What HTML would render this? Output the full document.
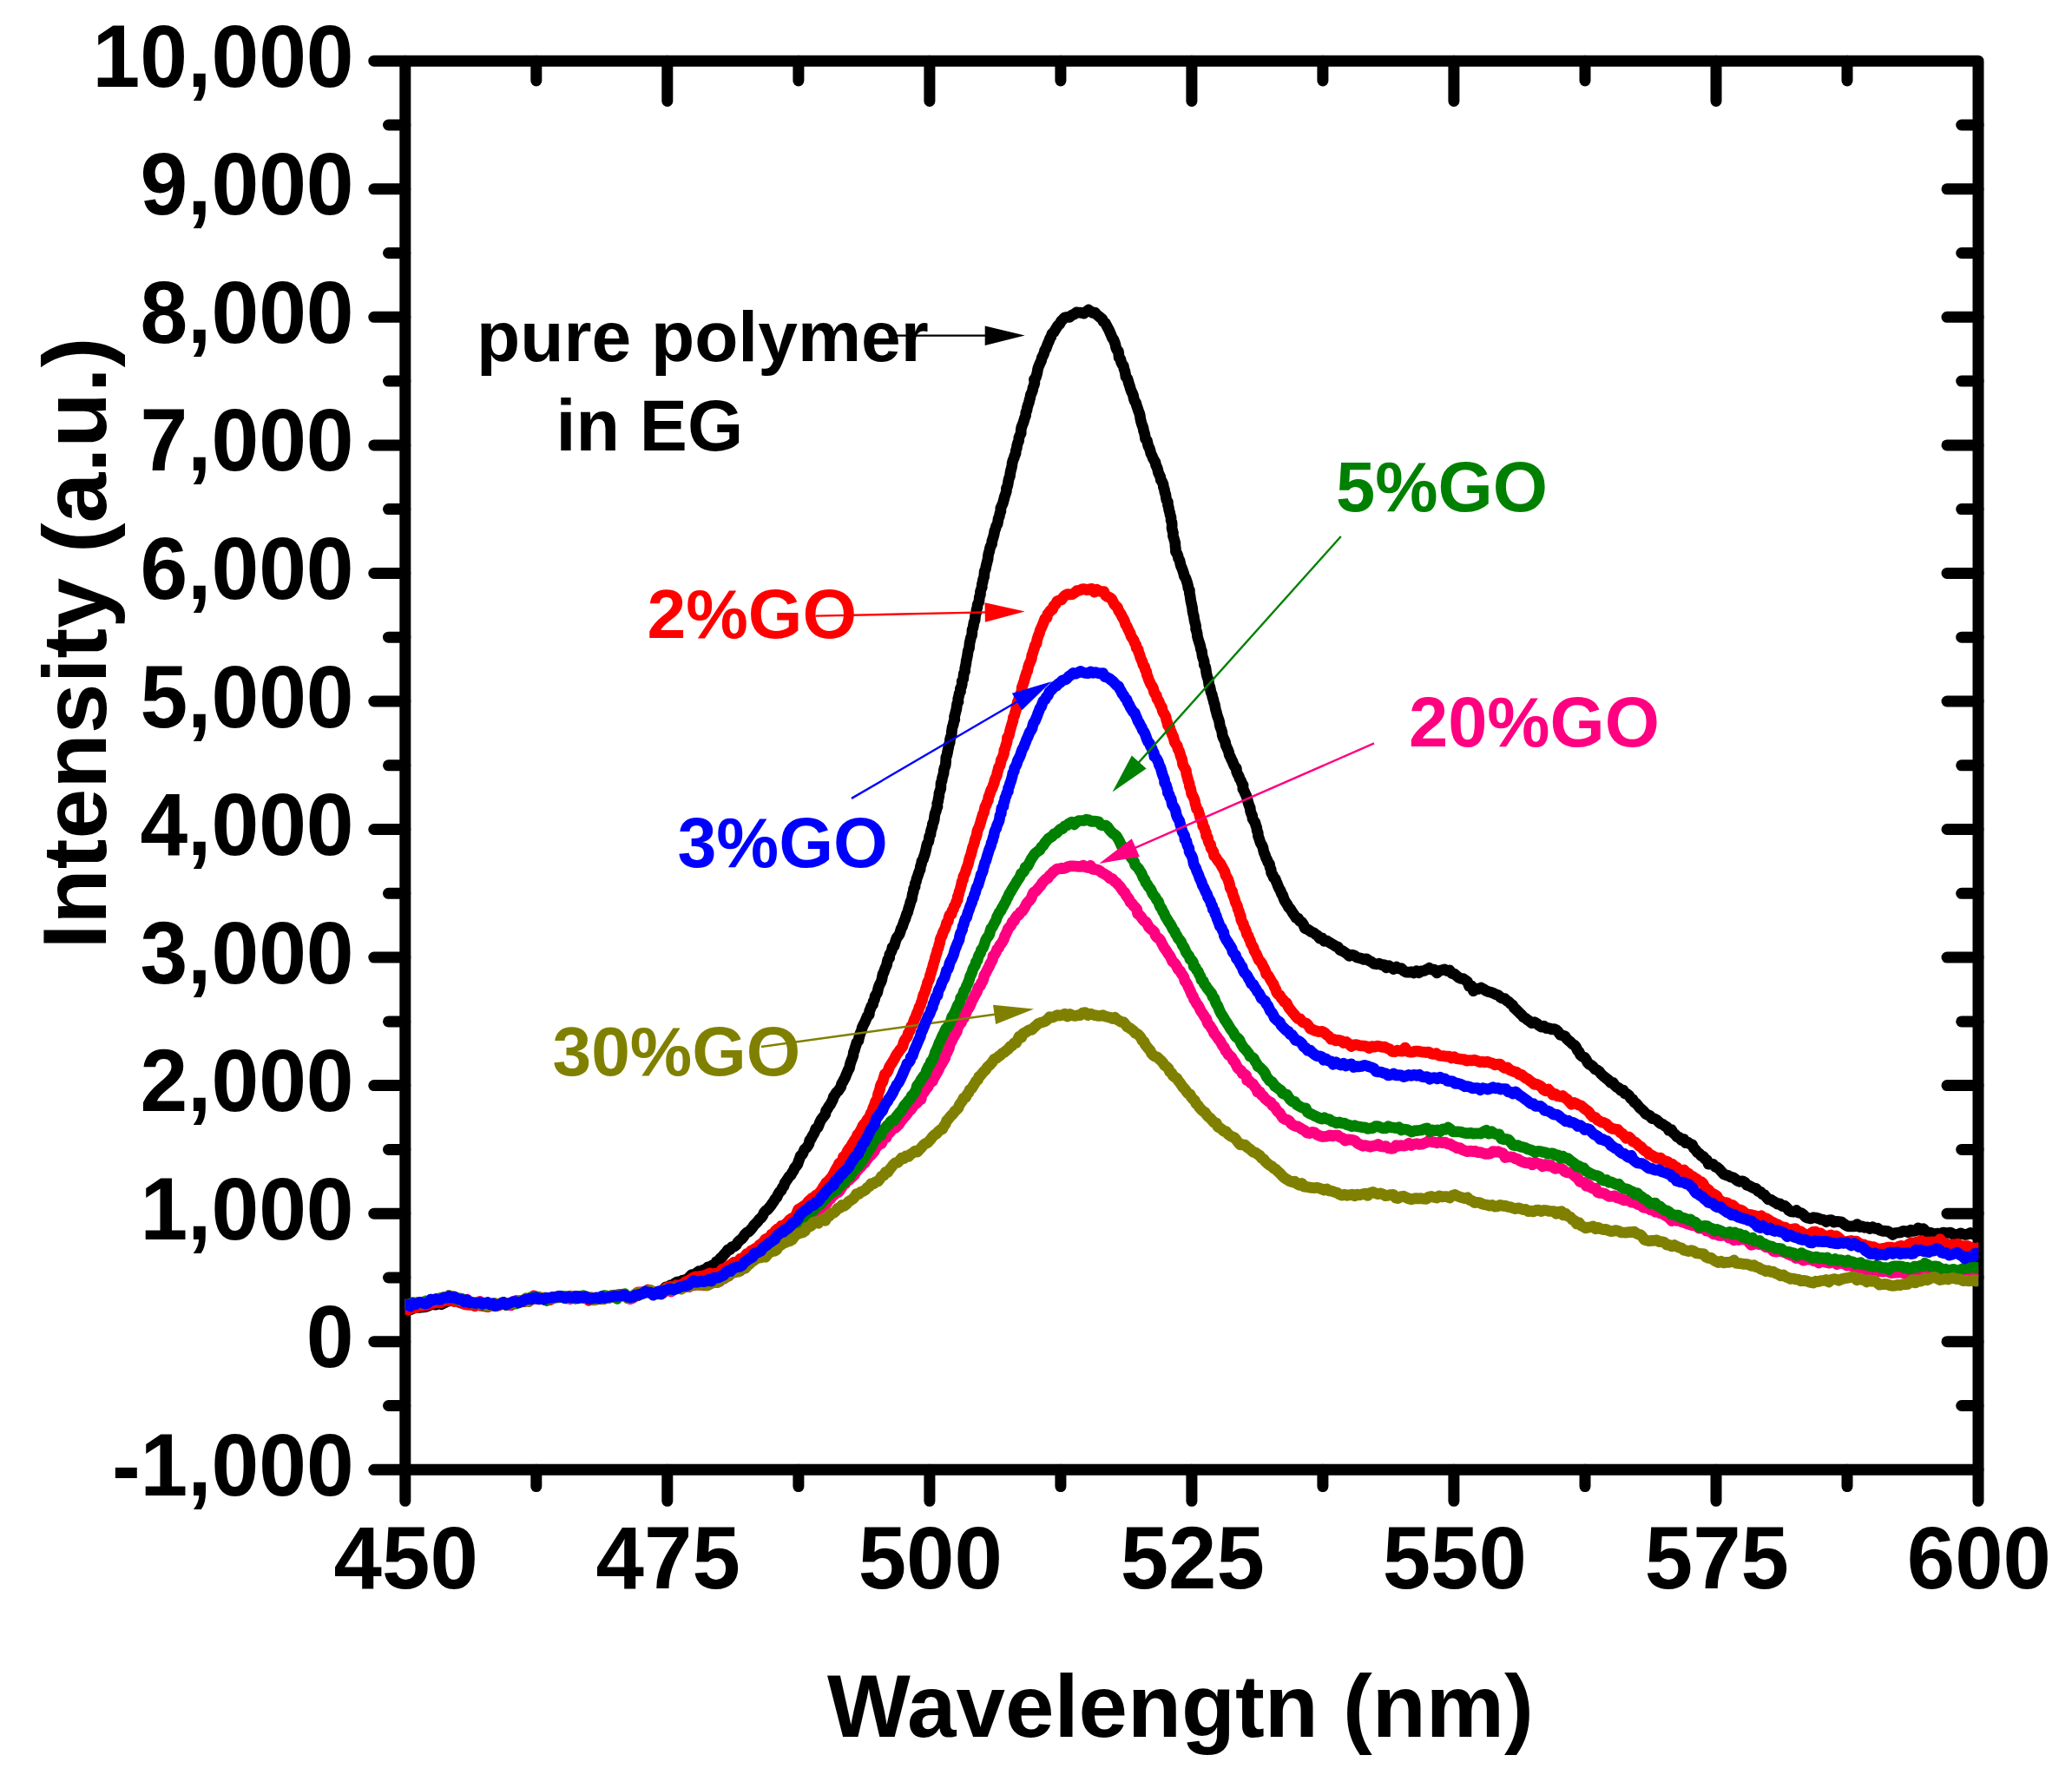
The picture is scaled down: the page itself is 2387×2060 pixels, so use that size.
<!DOCTYPE html>
<html lang="en"><head><meta charset="utf-8"><title>PL spectra</title>
<style>html,body{margin:0;padding:0;background:#fff}svg{display:block}</style>
</head><body>
<svg width="2387" height="2060" viewBox="0 0 2387 2060" font-family="'Liberation Sans', Arial, Helvetica, sans-serif" font-weight="bold">
<rect width="2387" height="2060" fill="#fff"/>
<defs><clipPath id="plotclip"><rect x="466.5" y="0" width="1812.8" height="2060"/></clipPath></defs>
<g stroke="#000" stroke-width="13.0" stroke-linecap="round" fill="none">
<path d="M466.8,70.2 L2279.0,70.2 L2279.0,1693.3 L466.8,1693.3 Z" stroke-linejoin="round"/>
<path d="M466.8,1693.3 v36.0"/>
<path d="M617.8,1693.3 v19.3"/>
<path d="M617.8,70.2 v22.8"/>
<path d="M768.8,1693.3 v36.0"/>
<path d="M768.8,70.2 v46.3"/>
<path d="M919.9,1693.3 v19.3"/>
<path d="M919.9,70.2 v22.8"/>
<path d="M1070.9,1693.3 v36.0"/>
<path d="M1070.9,70.2 v46.3"/>
<path d="M1221.9,1693.3 v19.3"/>
<path d="M1221.9,70.2 v22.8"/>
<path d="M1372.9,1693.3 v36.0"/>
<path d="M1372.9,70.2 v46.3"/>
<path d="M1523.9,1693.3 v19.3"/>
<path d="M1523.9,70.2 v22.8"/>
<path d="M1674.9,1693.3 v36.0"/>
<path d="M1674.9,70.2 v46.3"/>
<path d="M1826.0,1693.3 v19.3"/>
<path d="M1826.0,70.2 v22.8"/>
<path d="M1977.0,1693.3 v36.0"/>
<path d="M1977.0,70.2 v46.3"/>
<path d="M2128.0,1693.3 v19.3"/>
<path d="M2128.0,70.2 v22.8"/>
<path d="M2279.0,1693.3 v36.0"/>
<path d="M466.8,1693.3 h-36.0"/>
<path d="M466.8,1619.5 h-19.3"/>
<path d="M2279.0,1619.5 h-19.3"/>
<path d="M466.8,1545.7 h-36.0"/>
<path d="M2279.0,1545.7 h-36.0"/>
<path d="M466.8,1472.0 h-19.3"/>
<path d="M2279.0,1472.0 h-19.3"/>
<path d="M466.8,1398.2 h-36.0"/>
<path d="M2279.0,1398.2 h-36.0"/>
<path d="M466.8,1324.4 h-19.3"/>
<path d="M2279.0,1324.4 h-19.3"/>
<path d="M466.8,1250.6 h-36.0"/>
<path d="M2279.0,1250.6 h-36.0"/>
<path d="M466.8,1176.9 h-19.3"/>
<path d="M2279.0,1176.9 h-19.3"/>
<path d="M466.8,1103.1 h-36.0"/>
<path d="M2279.0,1103.1 h-36.0"/>
<path d="M466.8,1029.3 h-19.3"/>
<path d="M2279.0,1029.3 h-19.3"/>
<path d="M466.8,955.5 h-36.0"/>
<path d="M2279.0,955.5 h-36.0"/>
<path d="M466.8,881.8 h-19.3"/>
<path d="M2279.0,881.8 h-19.3"/>
<path d="M466.8,808.0 h-36.0"/>
<path d="M2279.0,808.0 h-36.0"/>
<path d="M466.8,734.2 h-19.3"/>
<path d="M2279.0,734.2 h-19.3"/>
<path d="M466.8,660.4 h-36.0"/>
<path d="M2279.0,660.4 h-36.0"/>
<path d="M466.8,586.6 h-19.3"/>
<path d="M2279.0,586.6 h-19.3"/>
<path d="M466.8,512.9 h-36.0"/>
<path d="M2279.0,512.9 h-36.0"/>
<path d="M466.8,439.1 h-19.3"/>
<path d="M2279.0,439.1 h-19.3"/>
<path d="M466.8,365.3 h-36.0"/>
<path d="M2279.0,365.3 h-36.0"/>
<path d="M466.8,291.5 h-19.3"/>
<path d="M2279.0,291.5 h-19.3"/>
<path d="M466.8,217.8 h-36.0"/>
<path d="M2279.0,217.8 h-36.0"/>
<path d="M466.8,144.0 h-19.3"/>
<path d="M2279.0,144.0 h-19.3"/>
<path d="M466.8,70.2 h-36.0"/>
</g>
<path d="M458.8,1508.8 L466.8,1508.8 L469.8,1508.4 L472.8,1508.8 L475.7,1507.6 L478.7,1506.6 L481.6,1506.3 L484.6,1506.3 L487.6,1505.9 L490.6,1505.6 L493.5,1504.6 L496.4,1501.9 L499.4,1503.0 L502.4,1503.1 L505.3,1500.2 L508.4,1502.7 L511.3,1501.3 L514.3,1499.9 L517.3,1498.8 L520.3,1498.6 L523.3,1498.1 L526.3,1498.8 L529.3,1500.1 L532.3,1501.4 L535.3,1499.5 L538.3,1500.7 L541.3,1500.8 L544.3,1501.8 L547.3,1501.3 L550.3,1501.4 L553.3,1501.8 L556.3,1501.4 L559.2,1503.6 L562.2,1503.7 L565.2,1502.9 L568.2,1504.2 L571.2,1502.9 L574.2,1503.3 L577.2,1501.5 L580.1,1500.4 L583.2,1503.7 L586.1,1502.3 L589.0,1501.0 L592.0,1500.8 L594.9,1500.4 L597.8,1498.8 L600.8,1499.0 L603.8,1499.6 L606.7,1498.1 L609.6,1496.4 L612.5,1494.4 L615.5,1496.3 L618.5,1496.0 L621.5,1495.1 L624.5,1496.2 L627.5,1497.6 L630.5,1497.8 L633.5,1497.3 L636.5,1495.8 L639.5,1494.4 L642.5,1494.0 L645.5,1493.6 L648.5,1494.7 L651.5,1495.9 L654.5,1494.2 L657.4,1493.8 L660.5,1494.6 L663.5,1495.5 L666.4,1493.6 L669.4,1494.4 L672.4,1494.1 L675.4,1494.4 L678.5,1497.0 L681.4,1496.0 L684.4,1495.5 L687.4,1496.1 L690.4,1495.5 L693.4,1495.4 L696.4,1495.8 L699.4,1493.8 L702.4,1494.4 L705.4,1492.6 L708.4,1493.2 L711.4,1492.0 L714.4,1491.4 L717.4,1492.3 L720.4,1493.0 L723.4,1494.2 L726.4,1495.4 L729.4,1493.2 L732.4,1493.1 L735.3,1492.5 L738.2,1490.2 L741.1,1489.7 L744.0,1487.9 L746.9,1488.3 L749.8,1487.8 L752.8,1488.1 L755.8,1489.0 L758.7,1488.2 L761.6,1487.4 L764.3,1485.9 L766.9,1482.8 L769.8,1482.6 L772.5,1480.7 L775.3,1480.4 L777.9,1478.2 L780.7,1476.8 L783.6,1477.0 L786.3,1475.2 L789.1,1474.6 L791.9,1473.7 L794.4,1471.1 L796.9,1468.6 L799.9,1469.5 L802.4,1466.6 L804.9,1464.7 L808.1,1466.9 L810.3,1463.1 L813.1,1462.6 L815.4,1459.9 L818.1,1459.6 L820.5,1457.8 L823.4,1457.9 L825.2,1453.6 L827.8,1452.6 L829.9,1449.6 L832.3,1447.8 L834.3,1445.1 L836.6,1442.9 L838.5,1439.9 L841.2,1439.6 L843.2,1436.6 L845.8,1436.2 L848.1,1434.5 L850.0,1431.2 L852.1,1429.2 L854.4,1427.5 L856.4,1425.0 L858.3,1422.0 L860.4,1420.0 L862.8,1418.9 L864.9,1416.7 L866.9,1414.3 L868.7,1411.6 L870.8,1409.5 L872.8,1407.4 L874.7,1404.8 L876.8,1403.2 L878.7,1400.7 L880.1,1397.3 L882.0,1395.0 L884.2,1393.7 L886.1,1391.4 L888.0,1389.2 L889.7,1386.5 L891.4,1384.2 L893.0,1381.3 L895.0,1379.4 L896.3,1376.2 L897.9,1373.5 L899.9,1371.7 L901.2,1368.6 L903.0,1366.5 L904.1,1363.0 L905.8,1360.6 L907.4,1358.2 L909.0,1355.7 L911.0,1354.0 L912.4,1351.3 L914.1,1348.9 L915.3,1345.7 L917.1,1343.7 L918.8,1341.6 L919.9,1338.1 L921.1,1335.0 L922.2,1331.6 L924.2,1330.0 L925.6,1327.3 L926.8,1324.2 L928.8,1322.6 L930.5,1320.4 L932.0,1317.8 L932.7,1313.9 L934.5,1311.8 L935.8,1309.0 L937.4,1306.6 L938.7,1303.8 L939.8,1300.4 L942.0,1299.3 L943.3,1296.3 L944.4,1293.1 L945.8,1290.4 L947.4,1288.1 L949.2,1286.1 L950.8,1283.7 L951.6,1279.7 L953.3,1277.5 L954.7,1274.8 L956.5,1272.7 L957.9,1269.8 L959.4,1267.2 L960.4,1263.5 L962.1,1261.2 L963.6,1258.5 L965.6,1257.0 L967.2,1254.6 L968.8,1252.2 L969.6,1248.6 L971.1,1246.3 L972.4,1243.7 L973.8,1241.3 L974.8,1238.3 L976.0,1235.7 L977.1,1232.9 L978.5,1230.6 L979.1,1227.3 L979.9,1224.2 L980.9,1221.5 L982.0,1218.8 L983.0,1215.9 L983.3,1212.5 L984.5,1209.8 L985.2,1206.8 L986.2,1204.0 L987.0,1201.0 L988.9,1199.2 L989.5,1195.9 L990.3,1192.8 L991.3,1189.9 L992.5,1187.3 L993.2,1184.0 L994.4,1181.4 L995.7,1178.9 L997.0,1176.2 L998.1,1173.4 L999.3,1170.6 L1001.3,1169.1 L1001.6,1165.1 L1002.8,1162.3 L1003.8,1159.4 L1005.6,1157.5 L1006.1,1153.9 L1007.5,1151.5 L1008.1,1147.9 L1009.5,1145.6 L1010.9,1143.2 L1011.5,1139.8 L1012.3,1136.8 L1013.4,1134.1 L1014.8,1131.7 L1015.8,1128.9 L1016.4,1125.7 L1017.0,1122.5 L1018.3,1120.0 L1019.2,1117.2 L1020.3,1114.5 L1021.5,1112.0 L1022.1,1108.7 L1022.8,1105.5 L1024.7,1103.7 L1024.8,1099.8 L1026.2,1097.5 L1027.4,1094.8 L1028.0,1091.4 L1030.1,1089.9 L1031.0,1086.8 L1031.9,1083.6 L1033.0,1080.7 L1034.6,1078.6 L1036.2,1076.3 L1037.2,1073.3 L1038.1,1070.0 L1039.5,1067.7 L1040.5,1064.6 L1041.5,1061.7 L1042.7,1059.1 L1043.6,1056.1 L1044.5,1053.2 L1045.8,1050.7 L1046.5,1047.5 L1047.4,1044.7 L1048.3,1041.8 L1049.0,1038.8 L1050.3,1036.4 L1050.8,1033.2 L1051.3,1030.0 L1052.3,1027.3 L1052.6,1023.9 L1054.1,1021.7 L1054.2,1018.1 L1055.5,1015.6 L1056.0,1012.5 L1057.1,1009.9 L1058.0,1007.0 L1058.9,1004.2 L1060.1,1001.7 L1060.4,998.2 L1061.5,995.6 L1061.9,992.3 L1063.5,990.1 L1064.3,987.2 L1065.3,984.5 L1066.1,981.5 L1066.8,978.5 L1067.4,975.3 L1068.1,972.4 L1069.6,970.1 L1070.3,967.0 L1070.6,963.7 L1072.0,961.4 L1072.3,958.1 L1073.1,955.2 L1074.1,952.4 L1074.4,949.2 L1075.6,946.7 L1076.3,943.8 L1076.6,940.6 L1077.1,937.5 L1078.2,934.9 L1078.9,932.0 L1080.0,929.4 L1079.7,925.9 L1080.7,923.3 L1081.1,920.2 L1081.8,917.3 L1081.9,914.1 L1082.8,911.3 L1083.8,908.6 L1083.9,905.4 L1084.0,902.1 L1085.1,899.5 L1085.5,896.4 L1086.3,893.7 L1087.1,890.8 L1087.3,887.6 L1088.0,884.8 L1089.1,882.2 L1089.5,879.1 L1089.7,875.9 L1089.8,872.7 L1090.9,870.1 L1091.5,867.1 L1092.0,864.1 L1092.7,861.2 L1093.1,858.2 L1094.2,855.6 L1094.4,852.4 L1095.1,849.5 L1096.2,846.9 L1096.3,843.6 L1096.7,840.5 L1097.2,837.5 L1098.2,834.9 L1098.7,831.9 L1099.8,829.2 L1099.5,825.7 L1100.3,822.9 L1101.0,820.0 L1101.8,817.2 L1102.2,814.1 L1102.6,811.0 L1104.0,808.6 L1103.7,805.1 L1104.6,802.3 L1105.0,799.2 L1106.5,796.9 L1106.3,793.4 L1107.6,791.0 L1108.3,788.1 L1108.2,784.6 L1109.7,782.3 L1110.0,779.2 L1110.3,776.0 L1111.6,773.6 L1111.7,770.3 L1112.3,767.4 L1112.9,764.4 L1113.2,761.3 L1113.9,758.4 L1114.5,755.5 L1114.9,752.4 L1115.4,749.4 L1116.5,746.8 L1116.8,743.7 L1117.1,740.6 L1117.8,737.7 L1118.4,734.7 L1119.5,732.2 L1119.9,729.1 L1120.0,725.8 L1121.0,723.1 L1121.5,720.1 L1122.0,717.2 L1123.1,714.5 L1123.4,711.4 L1123.7,708.3 L1124.7,705.6 L1125.0,702.4 L1125.9,699.7 L1126.2,696.5 L1127.5,694.1 L1128.1,691.2 L1128.3,687.9 L1129.4,685.3 L1129.4,682.0 L1130.2,679.1 L1131.3,676.5 L1131.3,673.2 L1132.2,670.4 L1132.6,667.4 L1133.7,664.7 L1133.9,661.5 L1134.2,658.3 L1135.4,655.8 L1135.9,652.8 L1136.6,649.8 L1137.3,647.0 L1138.1,644.1 L1138.3,640.9 L1138.9,637.8 L1139.8,635.0 L1140.3,632.0 L1141.2,629.2 L1142.6,626.9 L1142.8,623.5 L1143.7,620.7 L1144.6,617.9 L1145.3,614.9 L1145.8,611.7 L1146.9,609.1 L1147.6,606.1 L1149.1,603.8 L1149.7,600.8 L1150.1,597.5 L1151.3,594.9 L1151.8,591.7 L1152.9,589.1 L1152.8,585.4 L1154.0,582.8 L1155.2,580.3 L1156.0,577.4 L1156.8,574.5 L1157.5,571.6 L1158.5,568.9 L1159.4,566.1 L1159.4,562.7 L1160.7,560.1 L1161.3,557.1 L1161.7,554.0 L1162.4,551.1 L1163.5,548.5 L1163.8,545.2 L1164.4,542.2 L1165.2,539.4 L1165.8,536.4 L1166.2,533.2 L1167.0,530.3 L1168.1,527.8 L1168.9,524.9 L1170.1,522.4 L1170.3,519.1 L1171.3,516.4 L1171.7,513.2 L1172.5,510.4 L1173.7,507.8 L1173.8,504.4 L1174.9,501.7 L1176.2,499.3 L1176.2,495.7 L1176.7,492.5 L1177.7,489.9 L1178.8,487.3 L1179.7,484.4 L1180.5,481.5 L1181.6,478.9 L1181.8,475.5 L1182.9,472.9 L1183.4,469.7 L1184.2,466.9 L1185.3,464.2 L1185.9,461.2 L1186.8,458.3 L1187.3,455.1 L1188.5,452.6 L1189.5,449.9 L1190.0,446.7 L1191.1,444.1 L1191.9,441.2 L1191.4,437.1 L1193.2,435.2 L1194.1,432.4 L1194.9,429.5 L1195.4,426.3 L1196.1,423.3 L1197.2,420.6 L1198.4,417.9 L1199.6,415.4 L1200.3,412.2 L1201.7,409.7 L1202.8,407.0 L1203.6,403.8 L1205.1,401.5 L1206.1,398.7 L1207.2,395.8 L1208.5,393.1 L1209.5,390.0 L1211.0,387.8 L1212.0,384.4 L1214.0,382.8 L1215.5,380.3 L1217.1,377.7 L1218.8,375.0 L1220.8,373.2 L1222.5,370.0 L1224.6,367.9 L1226.9,365.7 L1229.6,365.4 L1232.3,365.3 L1234.8,363.1 L1237.5,362.0 L1240.2,359.8 L1243.1,360.2 L1245.9,360.4 L1248.7,361.2 L1251.3,359.0 L1254.0,357.0 L1256.4,358.8 L1258.8,360.3 L1261.3,360.0 L1263.4,362.4 L1265.5,364.1 L1267.6,365.9 L1269.7,367.5 L1271.2,370.7 L1273.3,372.2 L1274.8,375.1 L1276.3,377.8 L1277.7,380.5 L1278.9,383.4 L1280.1,386.1 L1281.2,389.1 L1282.8,391.2 L1283.9,393.9 L1284.9,396.8 L1285.5,400.2 L1286.6,402.9 L1288.4,404.7 L1288.8,408.3 L1289.1,411.9 L1290.9,413.8 L1291.5,417.0 L1292.7,419.6 L1294.3,421.7 L1294.9,424.9 L1295.9,427.6 L1296.5,430.9 L1297.0,434.2 L1298.8,436.1 L1299.7,439.0 L1300.5,442.0 L1301.5,444.8 L1302.3,447.9 L1303.3,450.7 L1304.6,453.2 L1305.6,456.0 L1306.2,459.3 L1307.2,462.1 L1308.7,464.3 L1309.5,467.5 L1310.5,470.2 L1311.4,473.1 L1312.5,475.8 L1313.3,478.7 L1313.7,482.0 L1314.3,485.0 L1315.1,487.8 L1316.1,490.6 L1317.1,493.2 L1317.5,496.4 L1318.5,499.1 L1319.1,502.2 L1319.5,505.6 L1321.3,507.4 L1322.1,510.5 L1322.7,513.7 L1324.1,516.1 L1325.1,519.2 L1325.8,522.5 L1327.2,525.0 L1328.3,527.9 L1329.6,530.3 L1331.0,532.6 L1331.6,536.0 L1332.9,538.4 L1333.8,541.3 L1334.4,544.6 L1335.6,547.1 L1336.8,549.6 L1337.3,553.0 L1338.8,555.2 L1340.0,557.8 L1340.4,561.2 L1341.4,564.0 L1341.9,567.2 L1342.9,570.0 L1343.3,573.2 L1343.9,576.2 L1345.4,578.4 L1345.4,581.8 L1346.3,584.5 L1346.7,587.6 L1347.6,590.4 L1348.1,593.3 L1349.0,596.0 L1349.0,599.3 L1350.0,602.0 L1350.2,605.1 L1350.0,608.4 L1350.7,611.3 L1351.5,614.1 L1351.4,617.4 L1352.3,620.1 L1353.1,622.9 L1353.9,625.7 L1353.9,629.1 L1354.4,632.1 L1354.4,635.5 L1355.9,637.8 L1357.0,640.4 L1357.6,643.5 L1359.0,645.8 L1359.6,648.9 L1360.4,652.0 L1361.6,654.6 L1362.6,657.4 L1363.6,660.4 L1364.3,663.6 L1365.8,665.8 L1366.8,668.6 L1367.7,671.5 L1368.5,674.4 L1368.9,677.6 L1370.4,679.9 L1370.3,683.3 L1371.0,686.2 L1371.4,689.2 L1371.8,692.3 L1372.5,695.1 L1373.1,698.0 L1373.7,700.9 L1373.9,704.0 L1374.5,706.9 L1375.3,709.8 L1375.7,712.7 L1376.2,715.7 L1377.0,718.5 L1377.7,721.4 L1377.6,724.8 L1378.6,727.5 L1379.2,730.4 L1379.5,733.6 L1380.3,736.4 L1381.2,739.2 L1382.1,741.9 L1382.9,744.8 L1383.4,747.9 L1384.5,750.4 L1384.8,753.7 L1385.3,756.7 L1386.3,759.5 L1387.2,762.2 L1387.2,765.7 L1388.6,768.1 L1389.2,771.1 L1389.6,774.3 L1390.1,777.3 L1390.9,780.1 L1391.9,782.8 L1392.4,785.9 L1392.8,789.1 L1393.9,791.7 L1394.5,794.7 L1395.1,797.7 L1396.3,800.3 L1396.8,803.3 L1397.8,806.0 L1398.4,809.1 L1399.4,811.8 L1399.9,814.8 L1400.5,817.9 L1401.4,820.7 L1402.1,823.7 L1403.0,826.4 L1404.0,829.1 L1404.8,832.0 L1405.2,835.4 L1406.0,838.2 L1407.1,840.9 L1407.9,843.8 L1408.2,847.2 L1409.2,850.0 L1410.5,852.5 L1411.6,855.1 L1412.1,858.5 L1413.3,861.1 L1414.5,863.7 L1415.6,866.5 L1416.2,869.9 L1417.6,872.4 L1418.7,875.2 L1420.1,877.7 L1421.1,880.6 L1422.4,883.3 L1424.3,885.0 L1424.6,889.0 L1425.7,891.8 L1427.2,894.1 L1428.1,897.1 L1429.6,899.5 L1430.6,902.4 L1432.1,904.6 L1431.8,909.0 L1433.3,911.3 L1434.4,914.0 L1435.6,916.5 L1436.6,919.3 L1437.3,922.4 L1438.1,925.4 L1439.1,928.2 L1440.2,930.8 L1440.5,934.3 L1441.4,937.2 L1442.7,939.7 L1443.0,943.2 L1444.4,945.5 L1445.9,947.8 L1446.7,950.7 L1447.7,953.4 L1448.1,956.8 L1449.2,959.4 L1449.4,963.0 L1450.4,965.7 L1451.3,968.6 L1452.2,971.4 L1453.7,973.7 L1454.9,976.3 L1455.5,979.5 L1456.3,982.6 L1457.5,985.2 L1458.4,988.3 L1459.8,990.7 L1460.8,993.5 L1462.5,995.6 L1463.0,999.2 L1464.2,1001.9 L1464.6,1005.7 L1466.2,1007.9 L1467.2,1010.9 L1469.1,1012.6 L1470.2,1015.5 L1471.4,1018.2 L1472.5,1021.2 L1473.7,1023.8 L1475.2,1026.2 L1476.2,1029.4 L1477.8,1031.6 L1478.8,1034.9 L1480.0,1037.8 L1481.6,1040.2 L1483.2,1042.4 L1484.5,1045.4 L1486.4,1047.2 L1488.0,1049.7 L1489.6,1052.3 L1491.4,1054.8 L1493.1,1057.4 L1495.6,1058.1 L1497.3,1061.1 L1499.7,1062.4 L1501.6,1065.3 L1503.2,1069.5 L1505.8,1070.4 L1508.2,1071.9 L1510.6,1073.7 L1513.2,1074.5 L1515.6,1076.4 L1518.1,1078.1 L1520.4,1081.2 L1523.3,1080.9 L1525.5,1084.3 L1528.4,1083.8 L1531.0,1085.6 L1533.6,1087.1 L1536.2,1088.5 L1538.7,1090.2 L1541.4,1091.1 L1543.7,1094.5 L1546.5,1095.5 L1549.1,1097.1 L1551.7,1098.9 L1554.3,1101.3 L1557.4,1100.0 L1560.2,1100.8 L1562.8,1102.8 L1565.7,1103.6 L1568.6,1104.4 L1571.4,1105.5 L1574.4,1104.8 L1577.2,1106.9 L1580.1,1108.3 L1582.9,1110.3 L1585.7,1110.9 L1588.7,1110.2 L1591.5,1111.7 L1594.4,1111.7 L1596.9,1114.9 L1600.1,1112.7 L1602.8,1114.6 L1605.5,1116.5 L1608.7,1114.0 L1611.4,1116.0 L1614.4,1115.7 L1617.1,1118.5 L1620.0,1120.1 L1622.9,1120.1 L1625.9,1119.7 L1628.8,1121.0 L1631.8,1118.7 L1634.8,1120.8 L1637.7,1118.9 L1640.6,1118.5 L1643.6,1117.1 L1646.5,1115.3 L1649.5,1117.2 L1652.5,1117.1 L1655.4,1120.9 L1658.4,1118.4 L1661.3,1117.7 L1664.3,1116.9 L1667.1,1118.5 L1670.1,1117.9 L1672.5,1121.5 L1675.3,1122.0 L1677.9,1124.1 L1680.3,1126.1 L1682.9,1127.5 L1685.7,1127.6 L1688.2,1129.4 L1690.6,1131.2 L1692.5,1136.1 L1695.3,1136.2 L1697.3,1141.7 L1700.5,1139.1 L1703.3,1139.3 L1706.3,1138.0 L1709.1,1139.5 L1711.9,1141.4 L1714.7,1142.6 L1717.6,1143.2 L1720.4,1144.2 L1723.1,1145.7 L1725.9,1146.5 L1728.3,1148.8 L1730.8,1150.3 L1733.6,1150.6 L1735.8,1152.9 L1738.2,1154.3 L1740.3,1156.5 L1742.6,1158.0 L1744.3,1161.2 L1746.5,1163.0 L1748.6,1165.2 L1750.7,1167.2 L1752.9,1169.2 L1755.0,1171.9 L1757.4,1173.1 L1759.8,1175.1 L1762.3,1176.8 L1764.7,1178.7 L1767.7,1177.7 L1770.4,1179.1 L1773.0,1181.4 L1775.7,1183.1 L1778.7,1182.2 L1781.4,1184.7 L1784.3,1184.5 L1787.1,1185.9 L1790.1,1185.5 L1792.8,1186.6 L1795.3,1189.1 L1797.6,1192.4 L1800.3,1193.0 L1802.9,1193.8 L1804.9,1196.9 L1807.1,1198.9 L1809.4,1200.6 L1811.4,1202.9 L1813.8,1204.1 L1815.7,1206.5 L1817.2,1209.9 L1819.2,1212.1 L1820.7,1215.5 L1822.8,1217.3 L1825.3,1218.2 L1827.2,1220.7 L1828.9,1224.0 L1830.9,1226.3 L1833.4,1227.3 L1835.6,1229.4 L1837.6,1231.9 L1840.1,1232.9 L1842.4,1234.5 L1844.5,1237.4 L1846.7,1239.4 L1849.0,1241.2 L1851.2,1243.0 L1853.5,1244.8 L1855.6,1247.3 L1858.3,1247.3 L1860.2,1250.4 L1862.5,1252.5 L1865.0,1253.4 L1867.1,1256.3 L1870.0,1256.0 L1871.8,1260.0 L1874.5,1260.4 L1876.8,1262.2 L1878.6,1265.6 L1881.0,1266.8 L1882.7,1269.9 L1885.0,1271.4 L1887.0,1273.8 L1889.0,1276.3 L1891.3,1278.2 L1893.6,1280.2 L1895.7,1283.1 L1898.2,1284.5 L1900.8,1285.5 L1903.0,1288.6 L1905.8,1288.9 L1908.3,1290.1 L1910.7,1292.5 L1913.1,1294.5 L1915.7,1295.5 L1918.1,1297.3 L1920.6,1298.8 L1922.6,1302.2 L1925.5,1301.6 L1927.5,1305.2 L1929.9,1307.2 L1932.1,1309.8 L1934.7,1310.5 L1936.9,1313.5 L1939.9,1312.6 L1941.8,1316.6 L1944.7,1316.1 L1946.9,1318.1 L1949.5,1318.9 L1951.2,1322.8 L1953.4,1324.7 L1955.3,1327.7 L1957.7,1329.0 L1959.7,1331.6 L1962.2,1332.4 L1964.2,1335.1 L1966.6,1336.6 L1968.2,1341.1 L1970.9,1341.1 L1973.6,1341.4 L1975.8,1344.2 L1978.4,1345.1 L1980.8,1347.1 L1983.2,1349.9 L1985.6,1352.6 L1988.3,1353.8 L1991.0,1354.5 L1993.7,1356.0 L1996.5,1356.6 L1999.1,1358.3 L2001.7,1360.5 L2004.5,1361.4 L2007.4,1360.8 L2010.1,1362.1 L2012.5,1365.4 L2015.2,1366.1 L2017.8,1367.7 L2020.5,1368.8 L2023.2,1369.5 L2025.4,1372.5 L2028.1,1373.1 L2030.3,1375.8 L2032.9,1376.8 L2035.1,1379.6 L2037.4,1382.0 L2040.2,1382.3 L2042.7,1384.0 L2045.2,1385.3 L2047.7,1387.2 L2050.6,1386.9 L2053.0,1389.6 L2055.9,1389.1 L2058.4,1391.4 L2060.8,1394.5 L2063.5,1396.0 L2066.4,1396.3 L2069.5,1394.6 L2072.1,1397.2 L2075.0,1397.5 L2077.7,1399.6 L2080.4,1402.5 L2083.3,1403.4 L2086.2,1404.0 L2089.3,1402.7 L2092.2,1403.0 L2095.1,1403.9 L2098.0,1405.0 L2101.0,1405.6 L2103.9,1407.7 L2106.9,1405.8 L2109.9,1405.6 L2112.8,1408.1 L2115.8,1407.3 L2118.8,1407.6 L2121.8,1408.1 L2124.6,1410.4 L2127.5,1412.3 L2130.4,1413.0 L2133.4,1412.8 L2136.4,1412.8 L2139.5,1410.5 L2142.3,1413.5 L2145.3,1412.8 L2148.2,1414.3 L2151.2,1413.8 L2154.1,1415.5 L2157.2,1413.7 L2160.0,1415.5 L2163.0,1415.2 L2165.8,1417.3 L2168.8,1418.4 L2171.7,1418.2 L2174.7,1418.6 L2177.6,1420.3 L2180.5,1422.5 L2183.6,1420.5 L2186.6,1420.2 L2189.5,1420.0 L2192.5,1418.3 L2195.4,1418.6 L2198.4,1419.7 L2201.2,1417.1 L2204.2,1418.5 L2207.1,1417.9 L2209.9,1414.8 L2212.8,1417.4 L2215.7,1415.7 L2218.4,1418.6 L2221.1,1419.9 L2224.0,1420.3 L2226.8,1421.3 L2229.6,1421.5 L2232.5,1421.1 L2235.4,1422.0 L2238.3,1420.1 L2241.2,1420.4 L2244.1,1420.5 L2247.0,1420.1 L2249.8,1421.6 L2252.6,1424.5 L2255.6,1422.3 L2258.5,1420.9 L2261.4,1421.8 L2264.3,1422.5 L2267.2,1421.8 L2270.0,1420.5 L2273.0,1421.9 L2276.1,1422.8 L2278.9,1421.0 L2279.0,1420.8 L2287.0,1420.8" fill="none" stroke="#000000" stroke-width="12.7" stroke-linejoin="round" stroke-linecap="butt" clip-path="url(#plotclip)"/>
<path d="M458.8,1507.3 L466.8,1507.3 L469.9,1509.2 L472.8,1507.8 L475.7,1506.6 L478.7,1506.9 L481.6,1504.8 L484.6,1505.1 L487.5,1503.5 L490.5,1504.2 L493.5,1503.4 L496.4,1502.3 L499.4,1501.6 L502.3,1500.2 L505.4,1500.9 L508.3,1500.8 L511.3,1498.8 L514.3,1498.7 L517.3,1498.4 L520.3,1496.7 L523.3,1499.6 L526.3,1498.9 L529.2,1500.8 L532.2,1500.2 L535.1,1502.7 L538.0,1503.1 L541.0,1503.3 L544.0,1503.4 L546.9,1504.8 L550.0,1502.5 L552.9,1504.3 L555.9,1504.6 L558.9,1505.0 L561.9,1505.7 L564.9,1503.9 L567.9,1504.1 L570.9,1504.8 L573.9,1504.3 L576.8,1501.9 L579.8,1501.8 L582.8,1501.6 L585.8,1502.8 L588.8,1502.0 L591.7,1501.5 L594.6,1500.7 L597.6,1500.7 L600.5,1498.8 L603.5,1499.5 L606.4,1498.1 L609.4,1499.5 L612.2,1496.2 L615.1,1492.9 L618.2,1496.4 L621.2,1494.4 L624.2,1496.4 L627.2,1496.7 L630.2,1496.6 L633.2,1497.7 L636.2,1496.2 L639.2,1495.1 L642.2,1493.6 L645.2,1493.7 L648.2,1494.6 L651.2,1495.0 L654.2,1494.6 L657.1,1493.1 L660.2,1495.1 L663.2,1494.9 L666.2,1493.9 L669.2,1495.0 L672.2,1495.6 L675.2,1495.3 L678.2,1498.3 L681.2,1495.0 L684.2,1496.0 L687.2,1496.3 L690.2,1495.8 L693.1,1496.3 L696.1,1494.3 L699.1,1493.5 L702.1,1495.2 L705.1,1492.9 L708.1,1493.5 L711.1,1493.7 L714.1,1493.4 L717.1,1492.6 L720.1,1492.0 L723.1,1494.3 L726.2,1495.3 L729.1,1494.7 L732.1,1493.6 L734.9,1490.1 L737.9,1490.6 L740.8,1489.5 L743.7,1488.5 L746.5,1485.9 L749.6,1487.0 L752.7,1488.6 L755.6,1488.8 L758.6,1489.2 L761.5,1488.4 L764.4,1487.4 L767.1,1483.8 L769.9,1482.7 L772.8,1482.2 L775.9,1483.1 L778.6,1480.7 L781.6,1481.6 L784.4,1480.2 L787.2,1478.9 L789.8,1476.6 L792.7,1475.8 L795.4,1473.9 L798.1,1472.3 L800.9,1470.9 L803.8,1471.1 L806.7,1470.4 L809.6,1469.9 L812.5,1469.7 L815.2,1468.0 L818.1,1466.9 L821.2,1468.7 L824.0,1467.2 L826.9,1467.7 L829.6,1465.3 L832.2,1462.2 L835.0,1461.4 L837.6,1459.6 L840.2,1457.9 L842.8,1456.4 L845.3,1454.4 L848.1,1454.1 L850.8,1453.3 L852.9,1450.0 L855.8,1449.9 L858.0,1447.4 L860.2,1444.5 L863.0,1444.1 L865.1,1441.2 L867.7,1439.9 L870.1,1438.4 L872.6,1437.1 L874.8,1434.5 L877.3,1433.0 L879.5,1430.8 L881.6,1427.9 L884.1,1426.7 L886.7,1425.7 L888.6,1422.2 L891.2,1421.6 L893.1,1418.2 L895.4,1416.1 L897.9,1415.3 L900.0,1412.4 L902.6,1412.0 L904.9,1410.2 L907.2,1408.3 L909.3,1405.7 L911.6,1404.0 L914.1,1403.0 L916.4,1401.4 L918.0,1397.3 L919.7,1393.4 L922.1,1392.1 L924.4,1390.5 L926.7,1388.8 L929.1,1387.3 L931.0,1384.4 L933.3,1382.5 L935.4,1380.4 L937.9,1379.4 L939.9,1377.0 L942.4,1375.9 L944.4,1373.7 L946.4,1371.3 L948.1,1368.2 L950.0,1365.7 L951.7,1362.8 L953.8,1361.1 L955.7,1359.0 L957.6,1356.8 L959.3,1354.3 L960.8,1351.5 L962.3,1348.5 L963.8,1345.9 L965.4,1343.3 L966.7,1340.2 L968.8,1338.8 L970.6,1336.7 L971.5,1332.8 L973.9,1331.9 L975.2,1328.8 L976.5,1325.8 L978.1,1323.3 L980.0,1321.3 L981.5,1318.6 L983.1,1315.9 L984.7,1313.3 L986.5,1311.0 L987.7,1307.5 L989.7,1305.7 L991.2,1302.8 L992.7,1300.1 L994.0,1296.9 L995.8,1294.7 L997.6,1292.8 L999.0,1290.0 L1000.9,1288.2 L1002.2,1285.4 L1003.3,1282.4 L1005.0,1280.3 L1005.7,1276.8 L1007.0,1274.2 L1007.9,1271.3 L1008.9,1268.5 L1010.8,1266.7 L1011.1,1263.2 L1011.7,1260.1 L1012.8,1257.4 L1013.7,1254.6 L1014.2,1251.4 L1015.3,1248.8 L1016.8,1246.5 L1017.6,1243.5 L1018.5,1240.4 L1019.5,1237.2 L1021.7,1236.0 L1023.1,1233.5 L1024.2,1230.2 L1025.6,1227.4 L1027.3,1225.1 L1028.8,1222.5 L1030.4,1219.9 L1031.8,1217.0 L1033.4,1214.3 L1035.1,1212.2 L1036.7,1209.7 L1038.5,1207.6 L1040.1,1205.2 L1040.9,1201.5 L1042.1,1198.6 L1043.7,1196.3 L1045.4,1194.2 L1046.2,1190.7 L1047.8,1188.4 L1048.8,1185.3 L1049.8,1182.3 L1051.6,1180.4 L1052.5,1177.2 L1053.6,1174.2 L1054.9,1171.7 L1055.9,1168.7 L1057.0,1166.0 L1058.3,1163.4 L1059.0,1160.2 L1060.6,1158.0 L1061.3,1154.8 L1062.5,1152.2 L1063.1,1148.9 L1064.0,1146.0 L1065.3,1143.6 L1066.2,1140.7 L1067.0,1137.8 L1068.0,1135.1 L1068.6,1131.8 L1070.0,1129.5 L1071.0,1126.8 L1071.5,1123.6 L1072.6,1120.9 L1073.2,1117.8 L1074.3,1115.1 L1075.0,1112.0 L1075.8,1109.1 L1076.8,1106.4 L1077.4,1103.3 L1078.3,1100.5 L1079.3,1097.8 L1079.8,1094.6 L1081.1,1092.1 L1081.7,1089.0 L1082.7,1086.3 L1083.1,1083.0 L1084.0,1080.1 L1085.4,1077.7 L1086.2,1074.7 L1087.4,1072.2 L1088.8,1069.8 L1089.7,1066.7 L1090.5,1063.4 L1092.3,1061.5 L1092.9,1057.7 L1093.9,1054.4 L1096.2,1053.4 L1096.8,1049.5 L1098.4,1047.4 L1099.2,1044.3 L1100.8,1042.1 L1101.6,1039.1 L1103.2,1036.9 L1103.2,1033.2 L1104.5,1030.7 L1105.0,1027.6 L1106.1,1024.9 L1106.8,1021.9 L1107.6,1019.0 L1108.1,1015.7 L1109.5,1013.4 L1109.8,1009.9 L1111.2,1007.5 L1112.3,1004.9 L1113.0,1001.8 L1114.1,999.1 L1115.1,996.4 L1115.9,993.4 L1116.5,990.3 L1117.4,987.4 L1118.5,984.8 L1119.2,981.7 L1120.0,978.8 L1120.7,975.8 L1121.8,973.1 L1122.6,970.2 L1123.2,967.1 L1124.4,964.5 L1125.3,961.7 L1125.7,958.3 L1126.6,955.5 L1127.9,953.1 L1128.8,950.2 L1129.7,947.4 L1130.4,944.3 L1131.4,941.5 L1132.2,938.5 L1133.5,936.1 L1134.1,932.8 L1134.8,929.7 L1136.2,927.3 L1137.1,924.4 L1138.4,922.0 L1138.8,918.5 L1139.9,915.8 L1140.9,912.9 L1141.8,910.0 L1143.3,907.7 L1144.2,904.7 L1145.3,902.1 L1145.9,898.8 L1147.1,896.2 L1148.3,893.6 L1148.9,890.3 L1149.8,887.4 L1150.5,884.2 L1152.0,882.1 L1152.8,879.0 L1153.2,875.7 L1154.6,873.4 L1155.7,870.7 L1156.6,868.0 L1156.8,864.4 L1158.0,861.9 L1158.7,858.9 L1159.7,856.2 L1160.3,853.1 L1160.5,849.7 L1162.3,847.7 L1162.9,844.7 L1163.6,841.6 L1164.4,838.8 L1165.2,835.9 L1166.1,833.1 L1167.0,830.2 L1167.3,826.8 L1168.6,824.4 L1169.3,821.5 L1170.3,818.7 L1170.8,815.5 L1171.7,812.7 L1172.1,809.3 L1173.2,806.8 L1174.0,803.8 L1175.3,801.4 L1176.1,798.5 L1177.1,795.8 L1177.2,792.3 L1178.2,789.6 L1179.1,786.8 L1180.1,784.1 L1180.7,781.0 L1181.7,778.3 L1182.5,775.3 L1183.8,772.9 L1184.3,769.6 L1185.1,766.7 L1186.2,764.0 L1187.4,761.4 L1188.4,758.6 L1188.7,755.1 L1189.8,752.5 L1190.6,749.4 L1191.6,746.7 L1192.3,743.5 L1194.1,741.6 L1194.5,738.2 L1195.3,735.2 L1196.2,732.4 L1197.4,729.8 L1198.1,726.6 L1199.3,724.0 L1200.5,721.4 L1201.6,718.7 L1202.7,715.7 L1203.8,712.9 L1206.0,711.7 L1206.8,707.7 L1208.6,705.6 L1210.3,703.1 L1212.6,702.1 L1213.9,698.0 L1216.1,696.3 L1217.8,692.7 L1220.3,691.8 L1222.8,691.0 L1224.9,688.1 L1227.2,685.9 L1229.7,684.6 L1232.6,684.9 L1235.3,684.7 L1238.0,683.0 L1240.6,680.6 L1243.5,680.2 L1246.3,678.9 L1249.2,678.6 L1252.2,679.7 L1255.1,678.7 L1258.0,678.3 L1260.7,682.2 L1263.7,679.3 L1266.3,680.9 L1269.0,681.7 L1271.8,681.6 L1273.7,686.1 L1276.0,687.5 L1278.5,688.4 L1280.7,690.2 L1282.3,693.3 L1283.8,696.3 L1285.7,698.3 L1287.5,700.1 L1288.6,703.4 L1290.2,705.8 L1291.7,708.2 L1292.9,710.9 L1294.5,713.3 L1295.7,716.0 L1296.6,719.3 L1298.2,721.6 L1299.4,724.4 L1300.7,727.1 L1302.1,729.6 L1303.0,733.0 L1304.5,735.3 L1306.1,737.5 L1307.1,740.7 L1308.7,742.8 L1309.2,746.6 L1311.1,748.3 L1311.8,751.8 L1313.0,754.4 L1313.8,757.7 L1315.0,760.3 L1316.2,762.9 L1316.9,766.0 L1318.6,768.1 L1319.3,771.4 L1320.7,773.7 L1321.2,777.3 L1322.4,779.9 L1323.3,783.0 L1324.5,785.7 L1325.7,788.4 L1327.3,790.7 L1328.6,793.2 L1329.3,796.8 L1330.7,799.3 L1332.3,801.4 L1332.9,805.0 L1334.6,807.2 L1335.8,809.9 L1336.9,812.8 L1338.5,814.9 L1339.1,818.5 L1340.3,821.2 L1341.8,823.4 L1343.1,826.1 L1343.7,829.5 L1344.7,832.4 L1345.4,835.7 L1347.4,837.3 L1348.0,840.8 L1349.3,843.3 L1350.3,846.3 L1351.7,848.7 L1352.5,851.9 L1353.3,855.2 L1354.8,857.4 L1356.4,859.6 L1357.0,862.9 L1358.5,865.3 L1359.4,868.3 L1360.2,871.4 L1361.4,873.9 L1362.1,877.0 L1362.5,880.4 L1363.7,883.0 L1365.1,885.3 L1366.4,887.8 L1366.7,891.2 L1367.5,894.1 L1368.3,897.0 L1369.0,899.9 L1370.1,902.6 L1370.4,906.0 L1371.6,908.5 L1372.2,911.6 L1372.7,914.9 L1374.2,917.1 L1375.4,919.7 L1376.4,922.4 L1376.9,925.9 L1377.9,928.6 L1378.5,931.9 L1380.4,933.8 L1381.2,936.8 L1382.1,939.8 L1382.9,942.8 L1384.3,945.2 L1385.5,947.8 L1385.7,951.6 L1387.5,953.5 L1388.1,956.7 L1389.4,959.2 L1389.5,963.1 L1391.4,964.9 L1391.8,968.4 L1392.8,971.3 L1394.6,973.1 L1395.0,977.0 L1396.5,979.3 L1398.0,981.7 L1398.5,985.8 L1400.5,987.5 L1402.1,990.1 L1403.7,992.4 L1405.5,994.4 L1407.0,997.1 L1408.4,999.7 L1409.9,1002.3 L1411.2,1004.9 L1411.9,1008.4 L1413.4,1010.7 L1414.7,1013.1 L1415.6,1016.2 L1416.6,1019.0 L1417.0,1022.5 L1418.2,1025.0 L1419.7,1027.2 L1420.2,1030.5 L1421.3,1033.2 L1422.4,1035.9 L1423.1,1039.0 L1424.3,1041.6 L1425.5,1044.1 L1426.1,1047.4 L1427.4,1049.9 L1428.1,1053.1 L1429.4,1055.7 L1429.7,1059.5 L1430.9,1062.2 L1432.4,1064.4 L1433.0,1067.9 L1434.6,1070.0 L1435.6,1073.0 L1436.4,1076.3 L1438.1,1078.3 L1439.0,1081.4 L1440.4,1083.9 L1441.2,1087.3 L1442.7,1089.6 L1444.1,1091.9 L1444.9,1095.3 L1446.5,1097.7 L1447.8,1100.3 L1449.0,1103.2 L1450.2,1106.1 L1452.1,1107.9 L1453.7,1110.2 L1454.9,1113.1 L1456.4,1115.6 L1457.8,1118.5 L1458.6,1122.3 L1460.7,1123.7 L1462.3,1126.2 L1463.7,1128.9 L1465.3,1131.4 L1467.0,1133.7 L1468.1,1137.1 L1469.7,1139.6 L1470.7,1143.4 L1472.5,1145.5 L1474.6,1147.0 L1476.1,1150.1 L1478.2,1151.6 L1479.6,1154.7 L1482.1,1155.4 L1483.6,1158.7 L1485.2,1161.7 L1487.2,1164.0 L1489.1,1166.5 L1491.1,1168.7 L1493.1,1171.2 L1495.2,1173.6 L1497.9,1173.8 L1499.9,1177.0 L1502.4,1178.3 L1505.0,1179.1 L1507.3,1181.4 L1509.4,1185.1 L1512.0,1186.2 L1514.7,1187.4 L1517.4,1188.2 L1520.2,1188.7 L1523.1,1188.3 L1525.7,1189.7 L1528.3,1192.2 L1531.0,1194.0 L1533.5,1197.3 L1536.4,1197.3 L1539.2,1199.0 L1542.2,1198.3 L1545.1,1199.1 L1547.8,1201.5 L1550.9,1200.4 L1553.7,1202.5 L1556.5,1205.5 L1559.6,1203.9 L1562.6,1203.6 L1565.5,1204.4 L1568.5,1204.9 L1571.5,1205.0 L1574.5,1205.7 L1577.4,1207.6 L1580.4,1205.5 L1583.4,1206.2 L1586.4,1205.1 L1589.3,1205.6 L1592.3,1206.3 L1595.2,1206.1 L1598.1,1207.7 L1601.0,1208.7 L1603.8,1211.4 L1606.7,1211.7 L1609.8,1210.2 L1612.7,1211.0 L1615.7,1211.2 L1618.8,1207.1 L1621.7,1211.3 L1624.7,1212.2 L1627.7,1212.2 L1630.7,1211.0 L1633.7,1211.1 L1636.7,1211.8 L1639.6,1212.1 L1642.6,1212.6 L1645.6,1212.0 L1648.6,1213.8 L1651.5,1214.5 L1654.6,1213.6 L1657.4,1215.9 L1660.4,1216.5 L1663.4,1216.6 L1666.3,1217.2 L1669.3,1217.1 L1672.2,1219.1 L1675.2,1217.6 L1678.0,1219.6 L1681.0,1220.0 L1683.9,1220.4 L1686.8,1220.6 L1689.7,1222.2 L1692.7,1221.5 L1695.7,1221.9 L1698.7,1221.1 L1701.6,1222.2 L1704.6,1223.6 L1707.6,1223.2 L1710.5,1223.9 L1713.5,1223.1 L1716.5,1224.3 L1719.4,1225.1 L1722.2,1226.8 L1725.2,1226.2 L1728.2,1226.0 L1730.8,1228.8 L1733.6,1230.5 L1736.6,1229.9 L1739.1,1232.5 L1741.8,1233.8 L1744.6,1234.8 L1747.4,1235.3 L1749.8,1237.8 L1752.6,1238.0 L1755.0,1240.2 L1757.5,1242.0 L1760.1,1243.3 L1762.6,1245.3 L1765.1,1247.1 L1767.6,1249.4 L1770.5,1249.2 L1773.1,1250.4 L1775.7,1252.1 L1778.1,1255.4 L1780.8,1256.8 L1783.9,1255.1 L1786.4,1258.0 L1788.8,1261.3 L1791.8,1260.3 L1794.4,1262.8 L1797.2,1263.4 L1800.2,1262.5 L1802.8,1264.9 L1805.4,1266.5 L1807.9,1269.4 L1810.4,1272.2 L1813.5,1270.4 L1816.1,1271.6 L1818.7,1273.2 L1821.4,1273.9 L1823.8,1276.0 L1826.1,1277.9 L1828.6,1279.5 L1830.9,1281.8 L1833.0,1284.8 L1835.4,1286.9 L1838.0,1287.5 L1840.2,1290.2 L1842.8,1291.6 L1845.3,1293.1 L1848.0,1293.6 L1850.6,1294.9 L1853.0,1297.5 L1855.5,1299.5 L1858.2,1300.5 L1861.0,1301.0 L1863.8,1301.3 L1866.2,1304.4 L1868.8,1305.9 L1871.2,1308.5 L1873.4,1311.4 L1876.5,1309.9 L1878.9,1312.2 L1881.0,1315.1 L1883.7,1315.9 L1886.0,1317.8 L1888.2,1320.2 L1890.7,1321.5 L1892.8,1324.1 L1895.2,1326.0 L1897.8,1326.9 L1899.8,1330.1 L1902.5,1330.8 L1905.0,1332.4 L1907.5,1334.3 L1910.4,1334.1 L1913.2,1334.2 L1915.5,1337.4 L1918.4,1337.6 L1921.2,1338.3 L1923.7,1340.8 L1926.6,1341.2 L1929.1,1343.7 L1931.9,1345.0 L1934.4,1347.7 L1937.0,1349.4 L1940.1,1348.0 L1942.4,1351.3 L1945.1,1352.0 L1947.4,1354.4 L1950.1,1355.4 L1952.5,1357.4 L1955.0,1358.5 L1957.1,1361.5 L1959.9,1361.6 L1962.1,1363.8 L1963.9,1367.6 L1966.2,1369.6 L1968.6,1371.0 L1970.6,1374.4 L1973.1,1375.3 L1975.6,1376.5 L1978.1,1378.1 L1980.0,1382.1 L1982.5,1383.7 L1984.8,1386.5 L1987.8,1385.5 L1990.6,1386.2 L1993.0,1388.6 L1995.9,1388.3 L1998.4,1390.7 L2001.0,1393.1 L2003.8,1393.7 L2006.6,1394.5 L2009.2,1396.5 L2011.8,1399.5 L2014.7,1399.4 L2017.6,1399.6 L2020.5,1400.3 L2023.3,1401.1 L2026.0,1402.9 L2029.2,1400.8 L2031.9,1403.3 L2034.7,1403.7 L2037.5,1405.4 L2040.1,1407.3 L2042.9,1408.6 L2045.6,1410.1 L2048.4,1411.1 L2051.1,1413.0 L2053.9,1413.7 L2056.8,1414.3 L2059.5,1416.1 L2062.4,1417.0 L2065.4,1416.0 L2068.4,1415.6 L2071.1,1418.6 L2074.0,1418.6 L2076.8,1420.7 L2079.6,1423.7 L2082.6,1423.2 L2085.6,1421.3 L2088.7,1419.3 L2091.6,1419.2 L2094.5,1421.3 L2097.5,1420.9 L2100.4,1423.2 L2103.4,1424.1 L2106.3,1423.8 L2109.4,1423.0 L2112.2,1425.6 L2115.2,1423.9 L2118.1,1425.8 L2120.9,1428.4 L2123.7,1430.6 L2126.6,1431.1 L2129.7,1429.9 L2132.7,1429.4 L2135.5,1430.4 L2138.5,1430.1 L2141.3,1432.0 L2144.0,1434.0 L2147.0,1433.8 L2149.7,1435.7 L2152.7,1435.6 L2155.5,1436.8 L2158.4,1436.6 L2161.3,1438.2 L2164.2,1439.4 L2167.2,1438.8 L2170.2,1438.3 L2173.1,1437.6 L2176.1,1437.1 L2179.1,1437.1 L2182.1,1438.4 L2185.0,1437.6 L2187.9,1435.9 L2190.8,1435.3 L2193.8,1436.5 L2196.7,1435.4 L2199.4,1433.2 L2202.3,1431.6 L2205.2,1432.4 L2208.1,1431.1 L2211.0,1430.2 L2214.0,1429.7 L2216.9,1431.7 L2219.8,1431.1 L2222.8,1431.2 L2225.8,1430.9 L2228.7,1431.1 L2231.8,1430.4 L2234.9,1427.6 L2237.7,1431.4 L2240.6,1433.1 L2243.5,1433.4 L2246.4,1434.9 L2249.5,1433.8 L2252.4,1434.3 L2255.4,1433.0 L2258.2,1437.6 L2261.2,1435.6 L2264.2,1435.5 L2267.2,1435.7 L2270.1,1437.0 L2273.1,1438.2 L2276.1,1438.3 L2279.0,1437.6 L2287.0,1437.6" fill="none" stroke="#ff0000" stroke-width="12.7" stroke-linejoin="round" stroke-linecap="butt" clip-path="url(#plotclip)"/>
<path d="M458.8,1503.2 L466.8,1503.2 L469.9,1504.6 L472.8,1503.5 L475.7,1501.6 L478.7,1501.2 L481.6,1500.9 L484.6,1501.1 L487.7,1502.9 L490.6,1502.2 L493.5,1499.6 L496.4,1498.6 L499.5,1499.3 L502.4,1496.5 L505.4,1497.4 L508.3,1495.9 L511.3,1494.5 L514.3,1494.5 L517.3,1494.2 L520.3,1495.3 L523.3,1493.9 L526.2,1496.9 L529.2,1496.8 L532.1,1497.9 L535.1,1497.7 L538.1,1497.2 L540.9,1500.2 L543.9,1500.4 L546.8,1501.5 L549.8,1501.1 L552.8,1499.4 L555.8,1501.4 L558.7,1502.6 L561.7,1503.1 L564.7,1503.1 L567.7,1503.0 L570.7,1502.7 L573.7,1503.4 L576.6,1502.1 L579.6,1501.9 L582.6,1502.2 L585.6,1502.6 L588.6,1503.8 L591.4,1499.8 L594.3,1498.5 L597.3,1500.3 L600.2,1498.8 L603.2,1498.6 L606.1,1497.2 L609.0,1496.9 L611.9,1495.3 L614.9,1494.5 L618.0,1496.6 L620.9,1496.5 L623.9,1495.4 L626.9,1496.5 L629.9,1497.8 L632.9,1496.2 L635.9,1494.4 L638.9,1495.0 L641.9,1494.7 L644.9,1493.6 L647.9,1494.6 L650.9,1494.1 L653.9,1495.9 L656.9,1496.6 L659.9,1494.9 L662.9,1494.3 L665.9,1495.3 L668.9,1494.6 L671.9,1495.0 L674.9,1494.6 L677.9,1495.2 L680.9,1495.0 L683.9,1495.3 L686.9,1495.9 L689.9,1495.1 L692.9,1496.8 L695.9,1494.7 L698.9,1493.9 L701.9,1493.6 L704.9,1493.9 L707.9,1494.1 L710.9,1492.0 L713.9,1491.6 L716.8,1491.2 L719.9,1492.8 L722.9,1494.5 L725.9,1496.7 L728.9,1495.5 L731.7,1491.5 L734.6,1488.8 L737.6,1488.8 L740.5,1488.5 L743.5,1488.2 L746.5,1488.3 L749.4,1487.1 L752.5,1489.8 L755.5,1490.7 L758.3,1487.9 L761.3,1488.0 L764.4,1489.2 L767.1,1485.8 L770.1,1485.1 L773.2,1488.1 L776.0,1484.7 L779.0,1484.0 L781.8,1481.6 L784.9,1483.1 L787.9,1483.3 L790.8,1481.8 L793.9,1482.8 L796.7,1479.3 L799.7,1480.8 L802.7,1480.0 L805.6,1479.4 L808.7,1480.5 L811.7,1481.0 L814.5,1479.6 L817.3,1477.0 L820.3,1478.2 L823.1,1476.6 L826.1,1477.1 L829.0,1476.3 L831.6,1473.9 L834.4,1473.1 L836.9,1470.0 L839.8,1470.0 L842.2,1466.8 L845.0,1466.2 L847.6,1464.4 L850.2,1462.7 L853.2,1463.7 L855.5,1460.5 L858.3,1460.6 L860.5,1457.1 L863.0,1455.2 L865.5,1453.6 L867.8,1451.0 L870.4,1449.9 L872.7,1447.2 L875.0,1444.9 L878.0,1445.8 L880.2,1443.0 L883.0,1442.9 L885.1,1439.9 L887.5,1438.3 L889.8,1435.8 L892.5,1435.5 L894.6,1432.3 L896.8,1430.0 L899.1,1427.9 L901.6,1426.5 L904.3,1426.2 L906.6,1424.0 L908.9,1422.0 L911.2,1420.1 L913.7,1418.6 L916.2,1417.7 L918.4,1415.3 L920.8,1413.5 L923.2,1412.1 L925.0,1407.9 L927.2,1405.6 L929.3,1402.6 L931.8,1401.6 L934.2,1400.1 L936.6,1398.8 L939.1,1397.4 L941.2,1394.8 L943.6,1393.5 L946.1,1392.2 L948.2,1389.7 L950.6,1388.2 L952.8,1386.2 L954.5,1382.3 L957.0,1381.4 L958.8,1378.0 L961.1,1376.6 L963.1,1373.9 L965.8,1373.6 L967.8,1371.3 L969.7,1368.2 L971.5,1365.2 L973.8,1363.8 L975.5,1360.4 L978.0,1359.7 L980.1,1357.6 L982.2,1355.6 L984.3,1353.8 L986.0,1350.6 L987.9,1348.3 L989.9,1346.2 L992.0,1344.2 L993.8,1341.7 L996.0,1340.1 L997.7,1337.3 L999.6,1334.9 L1001.4,1332.5 L1003.6,1330.8 L1005.5,1328.5 L1007.4,1326.2 L1008.8,1322.3 L1010.9,1320.6 L1012.7,1317.9 L1015.4,1317.6 L1017.0,1314.2 L1018.4,1310.3 L1021.2,1310.4 L1022.6,1306.4 L1024.9,1304.9 L1026.8,1302.4 L1028.9,1300.2 L1031.4,1299.5 L1033.5,1297.4 L1035.6,1295.4 L1037.4,1292.5 L1039.3,1290.0 L1041.3,1287.7 L1043.3,1285.5 L1045.2,1283.1 L1046.8,1279.9 L1049.2,1278.8 L1051.0,1276.1 L1052.7,1273.2 L1054.9,1271.9 L1057.0,1270.1 L1058.7,1267.4 L1061.1,1266.5 L1061.9,1261.7 L1063.7,1259.4 L1065.5,1257.0 L1067.1,1254.4 L1069.0,1252.4 L1070.3,1249.1 L1071.9,1246.7 L1074.4,1245.9 L1075.5,1242.5 L1077.1,1240.1 L1078.6,1237.3 L1080.1,1234.8 L1081.5,1232.0 L1082.7,1228.9 L1084.3,1226.6 L1085.8,1224.1 L1087.2,1221.5 L1088.7,1219.0 L1089.3,1215.2 L1090.9,1213.0 L1092.1,1210.2 L1093.4,1207.6 L1093.9,1203.8 L1095.3,1201.2 L1096.7,1198.8 L1097.9,1196.0 L1099.4,1193.5 L1100.7,1191.0 L1102.3,1188.7 L1103.1,1185.1 L1104.3,1182.3 L1105.8,1179.8 L1107.6,1178.0 L1108.6,1174.6 L1110.5,1172.8 L1111.7,1169.9 L1113.0,1167.0 L1114.0,1163.8 L1115.8,1161.8 L1117.2,1159.2 L1118.5,1156.3 L1119.5,1153.2 L1121.1,1150.8 L1122.4,1148.1 L1123.8,1145.6 L1125.3,1143.1 L1126.3,1139.9 L1127.4,1137.1 L1129.5,1135.5 L1130.5,1132.4 L1132.1,1130.3 L1133.1,1127.1 L1133.9,1123.7 L1135.4,1121.4 L1136.7,1118.7 L1138.1,1116.1 L1139.5,1113.5 L1140.6,1110.5 L1142.2,1108.1 L1143.5,1105.3 L1144.1,1101.3 L1146.1,1099.6 L1147.5,1096.9 L1148.7,1093.7 L1150.6,1091.9 L1151.8,1088.9 L1153.6,1086.9 L1155.1,1084.6 L1156.5,1082.0 L1157.5,1078.5 L1158.9,1075.9 L1160.2,1073.1 L1161.4,1070.0 L1163.2,1067.9 L1165.0,1065.8 L1166.2,1062.3 L1168.4,1061.0 L1169.8,1057.7 L1171.6,1055.2 L1173.9,1054.0 L1175.5,1051.0 L1177.8,1049.7 L1179.5,1047.1 L1181.1,1044.3 L1182.6,1041.2 L1184.4,1039.0 L1186.4,1037.1 L1188.1,1034.8 L1189.3,1031.1 L1190.8,1028.1 L1193.1,1026.9 L1195.0,1024.8 L1196.9,1022.4 L1198.9,1020.3 L1200.7,1017.2 L1202.8,1015.1 L1204.8,1012.9 L1207.2,1011.7 L1209.1,1008.8 L1211.2,1007.0 L1213.3,1004.6 L1215.5,1002.9 L1217.8,1001.2 L1220.4,1001.0 L1222.9,1000.2 L1225.5,1000.7 L1228.2,999.6 L1230.9,998.4 L1233.8,997.8 L1236.7,997.9 L1239.5,998.0 L1242.4,998.4 L1245.2,998.4 L1248.0,997.1 L1250.8,999.0 L1253.5,999.6 L1256.3,997.4 L1258.8,1001.4 L1261.5,1001.6 L1264.2,1002.0 L1266.8,1003.2 L1269.3,1005.3 L1271.8,1006.6 L1274.3,1008.1 L1276.7,1009.8 L1278.9,1012.1 L1281.6,1012.5 L1283.6,1015.2 L1285.9,1016.7 L1287.9,1019.0 L1290.0,1021.0 L1291.8,1023.8 L1293.6,1026.5 L1295.7,1028.2 L1297.2,1031.5 L1299.0,1033.9 L1300.8,1036.2 L1302.1,1039.6 L1304.3,1041.1 L1306.0,1043.7 L1308.0,1045.5 L1309.8,1047.9 L1310.5,1052.6 L1312.6,1054.2 L1314.5,1056.2 L1316.2,1058.8 L1318.1,1061.0 L1320.3,1062.3 L1322.0,1065.1 L1323.6,1068.3 L1325.7,1070.2 L1327.8,1071.9 L1329.9,1073.7 L1331.1,1077.8 L1332.9,1080.0 L1335.1,1081.3 L1336.9,1083.5 L1338.3,1086.4 L1339.7,1089.2 L1341.1,1091.9 L1342.8,1094.1 L1344.4,1096.5 L1346.0,1099.1 L1347.8,1101.4 L1349.2,1104.3 L1350.6,1107.6 L1352.7,1109.2 L1354.5,1111.3 L1356.0,1114.2 L1357.4,1117.1 L1359.5,1118.6 L1360.9,1121.5 L1362.6,1123.7 L1364.1,1126.4 L1364.9,1130.2 L1366.6,1132.2 L1368.1,1134.6 L1369.2,1137.6 L1370.6,1140.2 L1371.8,1143.0 L1372.9,1146.0 L1374.6,1148.0 L1375.5,1151.4 L1377.2,1153.5 L1378.5,1156.4 L1380.3,1158.5 L1381.8,1161.1 L1383.0,1164.2 L1384.7,1166.6 L1386.4,1168.9 L1387.8,1171.7 L1389.7,1173.7 L1390.7,1177.3 L1392.1,1180.1 L1394.1,1181.9 L1395.6,1184.7 L1397.3,1187.0 L1398.5,1190.2 L1400.3,1192.4 L1402.0,1194.6 L1403.6,1197.2 L1405.5,1199.2 L1407.0,1202.0 L1408.5,1204.9 L1410.4,1206.8 L1411.7,1210.2 L1413.5,1212.2 L1415.1,1215.1 L1417.2,1216.5 L1419.1,1218.6 L1420.6,1221.8 L1422.5,1223.7 L1424.1,1226.8 L1425.6,1229.9 L1427.6,1231.9 L1429.8,1233.4 L1431.2,1236.8 L1433.7,1237.6 L1435.8,1239.4 L1436.6,1244.6 L1439.2,1245.2 L1441.0,1247.8 L1443.5,1248.7 L1445.2,1251.8 L1447.2,1253.9 L1448.7,1257.9 L1451.4,1258.1 L1453.1,1261.4 L1455.4,1262.9 L1457.3,1265.7 L1459.5,1267.4 L1461.7,1269.3 L1464.2,1270.2 L1465.9,1273.8 L1468.3,1274.7 L1470.1,1278.1 L1472.0,1280.7 L1474.3,1282.3 L1476.1,1285.4 L1478.1,1288.2 L1480.4,1289.6 L1483.0,1290.2 L1485.4,1291.7 L1487.4,1294.6 L1489.8,1296.3 L1492.4,1297.5 L1495.1,1297.9 L1497.6,1299.4 L1500.2,1301.1 L1503.0,1302.4 L1505.6,1305.0 L1508.5,1305.7 L1511.6,1304.4 L1514.5,1304.8 L1517.3,1307.4 L1520.2,1308.5 L1523.1,1309.6 L1526.1,1309.4 L1529.1,1309.1 L1532.1,1307.9 L1535.1,1309.0 L1538.1,1308.0 L1541.1,1308.1 L1543.9,1310.3 L1546.8,1311.2 L1549.6,1314.1 L1552.7,1312.8 L1555.6,1313.1 L1558.5,1313.6 L1561.4,1314.6 L1564.1,1317.5 L1566.9,1318.7 L1569.8,1320.3 L1572.8,1319.5 L1575.7,1320.3 L1578.7,1321.4 L1581.7,1320.3 L1584.7,1319.9 L1587.7,1318.4 L1590.6,1320.8 L1593.6,1321.1 L1596.6,1320.6 L1599.6,1322.8 L1602.5,1323.4 L1605.5,1323.0 L1608.3,1319.7 L1611.3,1320.3 L1614.2,1319.7 L1617.2,1320.2 L1620.1,1319.6 L1623.0,1317.3 L1626.1,1319.6 L1629.0,1318.2 L1632.0,1317.7 L1635.0,1318.5 L1637.9,1318.2 L1640.9,1317.1 L1643.9,1316.0 L1646.8,1313.8 L1649.8,1315.8 L1652.8,1316.0 L1655.7,1316.8 L1658.7,1315.8 L1661.6,1316.7 L1664.6,1316.1 L1667.5,1317.8 L1670.4,1317.8 L1673.2,1319.9 L1676.1,1321.1 L1678.9,1323.0 L1681.9,1322.5 L1684.7,1324.6 L1687.5,1325.7 L1690.4,1326.7 L1693.4,1326.0 L1696.4,1326.6 L1699.3,1326.2 L1702.2,1327.7 L1705.2,1327.5 L1708.1,1328.5 L1711.1,1329.4 L1714.0,1329.4 L1717.0,1328.9 L1720.0,1326.6 L1722.9,1327.1 L1725.9,1326.7 L1728.7,1328.0 L1731.6,1328.9 L1734.0,1333.5 L1737.0,1333.0 L1739.9,1332.8 L1742.8,1333.2 L1745.5,1334.9 L1748.3,1335.3 L1751.0,1337.2 L1753.8,1338.6 L1756.6,1339.6 L1759.5,1339.8 L1762.4,1339.5 L1765.2,1342.0 L1768.3,1339.2 L1771.1,1340.4 L1774.0,1341.0 L1776.9,1343.8 L1779.9,1341.6 L1782.9,1343.2 L1785.9,1342.3 L1788.8,1344.6 L1791.7,1346.4 L1794.7,1345.5 L1797.6,1345.9 L1800.4,1347.4 L1802.9,1349.8 L1805.6,1351.0 L1808.3,1351.2 L1811.0,1351.7 L1813.3,1354.3 L1815.7,1356.0 L1818.0,1358.2 L1820.0,1361.3 L1822.7,1362.1 L1825.4,1362.4 L1827.3,1366.3 L1830.4,1365.1 L1832.7,1368.0 L1835.3,1369.3 L1838.2,1369.1 L1840.3,1373.5 L1843.1,1374.5 L1846.0,1374.6 L1848.7,1375.2 L1851.4,1377.1 L1854.2,1378.5 L1857.1,1378.2 L1860.0,1377.8 L1862.8,1379.9 L1865.7,1380.6 L1868.6,1381.7 L1871.3,1383.0 L1874.2,1382.8 L1876.9,1383.2 L1879.5,1385.2 L1882.3,1385.2 L1885.0,1386.5 L1887.6,1387.9 L1890.4,1388.5 L1893.0,1391.1 L1895.8,1391.4 L1898.7,1391.8 L1901.4,1393.9 L1904.4,1393.1 L1906.9,1396.2 L1910.0,1395.0 L1912.5,1397.8 L1915.3,1398.2 L1918.0,1400.1 L1920.7,1401.5 L1923.3,1403.6 L1925.9,1406.6 L1928.9,1405.4 L1931.8,1406.5 L1934.8,1405.2 L1937.5,1407.9 L1940.4,1408.5 L1943.3,1409.8 L1946.1,1410.5 L1949.0,1411.7 L1951.9,1412.0 L1954.7,1412.6 L1957.4,1415.2 L1960.3,1415.2 L1963.3,1414.7 L1965.9,1418.2 L1968.8,1418.2 L1971.6,1420.0 L1974.4,1421.9 L1977.4,1421.5 L1980.2,1423.5 L1983.1,1423.6 L1986.1,1423.0 L1989.0,1423.7 L1991.8,1426.1 L1994.7,1426.7 L1997.4,1428.8 L2000.6,1426.5 L2003.4,1428.6 L2006.4,1427.6 L2009.3,1428.1 L2012.3,1428.4 L2015.0,1431.6 L2017.6,1434.4 L2020.6,1433.3 L2023.7,1431.9 L2026.4,1433.7 L2029.4,1433.4 L2032.1,1435.1 L2034.8,1437.0 L2037.8,1437.0 L2040.5,1438.5 L2043.1,1441.5 L2045.9,1442.2 L2048.9,1441.7 L2052.0,1440.6 L2054.7,1442.5 L2057.5,1443.6 L2060.2,1445.0 L2063.1,1446.4 L2066.0,1446.6 L2068.7,1449.6 L2071.7,1449.1 L2074.6,1450.1 L2077.5,1452.2 L2080.5,1451.2 L2083.5,1451.2 L2086.5,1450.9 L2089.3,1452.6 L2092.3,1452.8 L2095.2,1455.0 L2098.3,1452.8 L2101.2,1453.8 L2104.2,1454.4 L2107.2,1455.2 L2110.2,1454.1 L2113.2,1453.3 L2116.1,1456.6 L2119.2,1454.4 L2122.1,1455.8 L2125.1,1454.7 L2127.9,1458.2 L2131.0,1456.3 L2133.8,1458.8 L2136.8,1458.9 L2139.9,1457.1 L2142.6,1461.3 L2145.5,1461.5 L2148.5,1461.1 L2151.3,1464.7 L2154.3,1463.7 L2157.3,1464.6 L2160.2,1465.0 L2163.3,1464.4 L2166.2,1464.8 L2169.2,1465.2 L2172.2,1464.8 L2175.2,1464.6 L2178.1,1466.6 L2181.1,1466.4 L2184.1,1466.0 L2187.1,1466.1 L2190.1,1465.4 L2193.1,1467.0 L2196.1,1466.3 L2199.0,1464.5 L2202.0,1465.6 L2204.9,1464.7 L2207.9,1464.0 L2210.9,1465.0 L2213.8,1463.8 L2216.8,1462.6 L2219.7,1463.6 L2222.7,1462.7 L2225.7,1464.7 L2228.7,1464.7 L2231.6,1468.0 L2234.6,1467.5 L2237.6,1465.4 L2240.6,1466.4 L2243.6,1463.6 L2246.6,1463.7 L2249.6,1466.2 L2252.6,1465.4 L2255.5,1467.4 L2258.6,1466.9 L2261.5,1468.3 L2264.5,1466.9 L2267.5,1465.8 L2270.5,1467.4 L2273.5,1466.6 L2276.5,1465.9 L2279.0,1465.6 L2287.0,1465.6" fill="none" stroke="#ff0080" stroke-width="12.7" stroke-linejoin="round" stroke-linecap="butt" clip-path="url(#plotclip)"/>
<path d="M458.8,1503.4 L466.8,1503.4 L469.8,1503.8 L472.8,1502.7 L475.6,1500.6 L478.7,1501.5 L481.6,1500.4 L484.6,1501.1 L487.6,1500.7 L490.5,1498.9 L493.5,1499.4 L496.4,1498.3 L499.4,1497.3 L502.4,1497.0 L505.3,1496.6 L508.3,1495.2 L511.3,1495.2 L514.3,1494.1 L517.3,1494.0 L520.3,1494.1 L523.3,1494.5 L526.2,1497.3 L529.2,1495.9 L532.2,1496.3 L535.0,1499.0 L538.0,1498.5 L540.9,1500.3 L543.8,1500.9 L546.8,1501.7 L549.8,1500.8 L552.8,1500.8 L555.7,1503.7 L558.7,1503.8 L561.7,1502.2 L564.7,1502.7 L567.7,1504.2 L570.7,1503.7 L573.7,1502.4 L576.6,1503.0 L579.6,1502.7 L582.6,1501.9 L585.6,1502.9 L588.5,1501.6 L591.5,1502.0 L594.5,1502.1 L597.3,1500.0 L600.2,1498.9 L603.2,1499.1 L606.1,1497.7 L609.0,1496.8 L611.9,1494.9 L614.9,1494.4 L617.9,1493.9 L620.9,1494.8 L623.9,1496.3 L626.9,1496.4 L629.9,1498.4 L632.9,1496.0 L635.9,1495.1 L638.9,1494.7 L641.9,1494.9 L644.9,1495.0 L647.9,1493.4 L650.9,1493.7 L653.9,1493.8 L656.9,1494.6 L659.9,1494.8 L662.9,1496.3 L665.9,1496.0 L668.9,1493.7 L671.9,1492.6 L674.9,1494.1 L677.9,1495.0 L680.9,1495.8 L683.9,1496.5 L686.9,1494.8 L689.9,1496.4 L692.9,1495.9 L695.9,1492.6 L698.9,1493.0 L701.9,1495.0 L704.9,1492.6 L707.9,1492.9 L710.9,1496.4 L713.9,1492.6 L716.9,1491.9 L719.8,1490.8 L722.9,1494.3 L725.9,1495.5 L728.8,1493.2 L731.8,1493.5 L734.7,1490.1 L737.7,1491.4 L740.6,1489.6 L743.4,1487.7 L746.5,1488.3 L749.5,1489.6 L752.5,1489.7 L755.4,1488.6 L758.5,1490.9 L761.4,1489.1 L764.3,1488.5 L767.2,1486.9 L770.1,1485.1 L773.1,1485.6 L776.0,1483.8 L779.0,1485.2 L781.9,1483.1 L784.9,1483.7 L787.9,1483.0 L790.8,1481.7 L793.8,1482.3 L796.6,1478.3 L799.6,1479.8 L802.6,1478.7 L805.5,1479.2 L808.5,1479.1 L811.4,1478.1 L814.4,1478.4 L817.1,1476.2 L819.8,1473.9 L823.0,1475.7 L825.7,1473.9 L828.8,1475.2 L831.4,1472.7 L834.0,1470.9 L836.6,1468.2 L839.5,1468.3 L841.9,1465.1 L844.4,1463.2 L847.0,1461.5 L849.7,1461.0 L852.7,1461.8 L855.3,1460.4 L857.7,1458.1 L859.9,1455.1 L862.4,1453.2 L865.1,1452.7 L867.4,1449.9 L869.7,1447.8 L872.4,1447.3 L874.7,1444.9 L877.3,1443.9 L879.5,1440.9 L881.9,1439.5 L884.3,1437.5 L886.7,1436.1 L889.2,1434.8 L891.4,1432.1 L893.9,1430.8 L896.3,1429.2 L898.3,1426.2 L900.7,1424.7 L903.1,1423.2 L905.1,1420.0 L908.0,1420.2 L910.0,1417.5 L912.5,1416.0 L914.4,1412.7 L917.1,1412.5 L919.4,1410.7 L921.4,1407.8 L923.3,1404.3 L925.6,1402.7 L927.6,1399.5 L930.3,1399.4 L932.6,1397.6 L934.9,1396.0 L937.3,1394.5 L939.3,1391.6 L941.6,1389.9 L944.0,1388.4 L946.3,1386.7 L948.3,1383.9 L950.6,1382.1 L952.6,1379.3 L954.8,1377.2 L956.9,1374.8 L959.3,1373.7 L961.7,1372.1 L964.1,1370.7 L965.9,1367.4 L968.3,1366.1 L970.3,1363.2 L972.8,1362.5 L974.5,1358.7 L976.1,1354.9 L979.0,1355.4 L980.5,1351.6 L982.8,1350.2 L984.6,1347.7 L986.4,1345.1 L988.6,1343.7 L990.4,1341.2 L992.3,1339.2 L993.9,1336.5 L995.5,1333.8 L997.2,1331.2 L998.8,1328.7 L1000.4,1326.0 L1001.7,1322.8 L1003.8,1321.2 L1005.2,1318.1 L1006.5,1314.7 L1008.6,1313.0 L1010.6,1311.1 L1012.3,1308.4 L1014.8,1307.8 L1015.9,1303.3 L1018.0,1301.5 L1020.0,1299.4 L1021.9,1297.0 L1024.1,1295.4 L1025.9,1292.3 L1028.0,1290.5 L1030.7,1290.4 L1032.3,1286.8 L1034.2,1284.5 L1036.1,1282.1 L1038.1,1279.9 L1039.9,1277.4 L1041.5,1274.2 L1043.4,1272.1 L1045.2,1269.8 L1047.0,1267.6 L1049.0,1265.7 L1050.3,1262.3 L1052.4,1260.8 L1054.0,1258.1 L1055.4,1255.3 L1056.3,1251.3 L1058.0,1249.0 L1059.7,1246.8 L1061.1,1243.9 L1062.7,1241.7 L1064.4,1239.3 L1066.2,1237.4 L1067.2,1234.0 L1068.5,1231.2 L1069.8,1228.5 L1071.5,1226.4 L1072.4,1223.1 L1074.3,1221.4 L1075.5,1218.5 L1076.6,1215.6 L1077.5,1212.2 L1078.9,1209.8 L1080.0,1206.9 L1081.2,1204.1 L1082.2,1201.0 L1083.6,1198.5 L1084.8,1195.6 L1086.0,1192.8 L1087.5,1190.4 L1088.6,1187.4 L1090.0,1184.8 L1092.0,1183.3 L1093.1,1180.3 L1094.8,1178.1 L1095.8,1174.9 L1096.7,1171.6 L1098.4,1169.4 L1099.7,1166.7 L1101.0,1163.9 L1102.2,1161.2 L1103.3,1158.3 L1104.9,1155.9 L1106.2,1153.3 L1106.7,1149.6 L1108.5,1147.7 L1109.6,1144.9 L1110.5,1141.8 L1112.3,1139.8 L1113.2,1136.7 L1114.5,1134.1 L1115.6,1131.3 L1116.7,1128.5 L1117.5,1125.2 L1118.8,1122.6 L1119.9,1119.8 L1120.8,1116.6 L1122.2,1114.1 L1123.6,1111.7 L1124.3,1108.2 L1126.1,1106.4 L1126.9,1102.9 L1128.0,1100.1 L1129.6,1097.8 L1130.4,1094.4 L1132.2,1092.5 L1133.4,1089.6 L1134.5,1086.7 L1135.4,1083.4 L1136.8,1080.9 L1138.4,1078.8 L1139.9,1076.4 L1140.7,1072.9 L1141.7,1069.8 L1143.5,1067.8 L1144.8,1065.1 L1146.1,1062.4 L1147.6,1059.9 L1148.5,1056.5 L1149.9,1053.9 L1151.2,1051.2 L1153.0,1049.3 L1154.2,1046.3 L1155.8,1044.0 L1157.1,1041.4 L1158.6,1038.8 L1159.8,1035.9 L1161.3,1033.3 L1162.5,1030.2 L1164.1,1027.9 L1165.6,1025.2 L1167.1,1022.6 L1168.7,1020.1 L1170.3,1017.5 L1171.8,1014.9 L1173.5,1012.6 L1175.1,1009.9 L1176.3,1006.6 L1178.4,1005.2 L1180.2,1003.0 L1181.2,999.1 L1183.6,998.4 L1185.1,995.5 L1186.6,992.5 L1188.1,989.6 L1189.9,987.0 L1191.6,984.3 L1193.6,982.3 L1195.8,980.7 L1198.0,979.3 L1199.6,975.9 L1201.8,974.2 L1203.6,971.2 L1205.6,968.9 L1207.6,966.4 L1209.9,964.9 L1212.2,963.4 L1214.3,960.8 L1216.8,960.0 L1219.1,957.7 L1221.4,955.3 L1224.1,954.9 L1226.4,952.0 L1229.1,950.9 L1231.7,948.6 L1234.4,947.3 L1237.5,949.8 L1240.1,947.4 L1242.8,945.6 L1245.7,945.5 L1248.6,945.5 L1251.4,944.2 L1254.3,944.8 L1257.1,946.3 L1259.9,946.2 L1262.8,946.4 L1265.7,946.7 L1268.1,950.3 L1270.8,951.0 L1273.7,951.0 L1276.1,953.0 L1278.2,956.0 L1280.2,958.3 L1282.2,960.3 L1284.4,961.7 L1286.4,963.5 L1288.0,966.2 L1289.5,968.8 L1290.9,972.0 L1292.3,975.0 L1294.6,976.1 L1296.5,978.0 L1298.1,980.7 L1299.5,983.6 L1301.6,985.1 L1303.1,988.1 L1304.9,990.3 L1306.6,992.8 L1307.7,996.7 L1309.6,998.5 L1311.5,1000.5 L1313.0,1003.1 L1314.6,1005.4 L1315.9,1008.3 L1317.1,1011.3 L1318.8,1013.3 L1319.8,1016.7 L1321.6,1018.7 L1323.0,1021.5 L1324.9,1023.5 L1326.4,1026.2 L1327.7,1029.5 L1329.4,1031.8 L1331.2,1034.0 L1332.6,1036.8 L1334.5,1038.7 L1335.5,1042.1 L1336.7,1045.0 L1338.4,1047.1 L1339.6,1050.1 L1341.2,1052.4 L1342.3,1055.5 L1343.9,1057.9 L1345.4,1060.4 L1346.9,1063.0 L1348.6,1065.2 L1350.0,1068.1 L1351.4,1071.0 L1353.2,1072.9 L1354.4,1076.2 L1356.1,1078.4 L1357.4,1081.4 L1359.3,1083.2 L1360.9,1085.6 L1362.1,1088.9 L1363.8,1091.1 L1365.2,1094.0 L1366.4,1097.2 L1368.1,1099.4 L1369.9,1101.4 L1370.9,1105.0 L1373.0,1106.5 L1374.6,1108.8 L1375.1,1113.4 L1377.3,1114.6 L1378.5,1117.6 L1380.4,1119.4 L1381.5,1122.7 L1383.1,1125.1 L1384.0,1129.0 L1386.2,1130.2 L1387.3,1133.7 L1389.1,1135.7 L1390.6,1138.4 L1392.4,1140.4 L1394.1,1142.8 L1395.9,1144.8 L1396.9,1148.4 L1398.9,1150.1 L1399.9,1153.4 L1401.1,1156.4 L1402.7,1158.6 L1403.9,1161.5 L1405.1,1164.6 L1406.4,1167.3 L1408.0,1169.6 L1409.5,1172.0 L1410.9,1174.8 L1412.5,1177.0 L1414.1,1179.5 L1415.7,1181.9 L1417.2,1184.7 L1418.9,1187.1 L1420.8,1189.3 L1422.2,1192.4 L1424.0,1194.8 L1426.2,1196.1 L1428.1,1198.5 L1429.5,1202.0 L1431.1,1204.7 L1432.9,1207.3 L1434.9,1209.2 L1436.7,1211.5 L1438.6,1213.8 L1440.0,1217.0 L1442.3,1218.1 L1444.5,1219.6 L1446.0,1222.9 L1447.8,1225.4 L1449.2,1228.9 L1451.6,1229.8 L1453.6,1231.9 L1455.6,1234.0 L1457.4,1236.5 L1458.9,1240.2 L1460.8,1242.6 L1462.7,1245.2 L1465.1,1246.3 L1467.0,1248.7 L1468.8,1251.6 L1471.2,1253.0 L1473.3,1254.8 L1475.7,1256.2 L1477.4,1259.6 L1479.9,1260.6 L1482.5,1261.0 L1484.5,1264.3 L1486.6,1267.0 L1488.9,1269.1 L1491.7,1269.3 L1493.8,1272.7 L1496.4,1274.1 L1498.9,1275.6 L1501.5,1276.6 L1504.3,1276.9 L1506.3,1281.5 L1508.9,1282.9 L1511.6,1284.0 L1514.3,1285.5 L1517.0,1286.6 L1519.7,1288.0 L1522.5,1289.1 L1525.6,1287.7 L1528.4,1289.3 L1531.3,1289.6 L1534.1,1291.8 L1537.0,1292.6 L1539.9,1294.0 L1542.9,1292.9 L1545.8,1294.1 L1548.7,1294.0 L1551.6,1295.7 L1554.6,1296.5 L1557.5,1297.9 L1560.5,1296.7 L1563.5,1297.9 L1566.5,1298.1 L1569.5,1298.9 L1572.5,1298.9 L1575.4,1300.4 L1578.5,1299.9 L1581.4,1299.8 L1584.5,1297.7 L1587.5,1297.7 L1590.4,1298.9 L1593.4,1300.0 L1596.4,1299.9 L1599.4,1297.7 L1602.4,1299.0 L1605.4,1299.1 L1608.3,1299.7 L1611.4,1298.7 L1614.2,1302.0 L1617.2,1301.0 L1620.2,1301.3 L1623.2,1302.4 L1626.2,1304.1 L1629.2,1302.9 L1632.2,1302.6 L1635.1,1302.3 L1638.1,1301.9 L1641.1,1300.7 L1644.1,1299.9 L1647.1,1303.7 L1650.1,1301.9 L1653.0,1302.7 L1656.0,1301.8 L1659.0,1303.7 L1662.0,1300.9 L1665.0,1301.3 L1668.1,1299.1 L1671.0,1301.1 L1673.9,1303.8 L1676.9,1303.8 L1679.8,1303.8 L1682.8,1304.0 L1685.7,1305.0 L1688.6,1305.6 L1691.5,1305.6 L1694.5,1305.2 L1697.4,1306.2 L1700.4,1305.9 L1703.3,1305.8 L1706.3,1306.1 L1709.3,1303.7 L1712.3,1302.3 L1715.2,1306.2 L1718.3,1303.7 L1721.2,1305.8 L1724.1,1307.0 L1727.0,1306.9 L1729.4,1311.8 L1732.3,1312.6 L1735.2,1312.3 L1738.0,1313.1 L1740.5,1316.1 L1742.9,1319.2 L1745.7,1320.0 L1748.7,1319.5 L1751.4,1321.2 L1754.3,1321.6 L1757.1,1322.4 L1760.0,1324.0 L1762.9,1324.6 L1765.7,1325.8 L1768.6,1327.6 L1771.6,1326.3 L1774.6,1326.5 L1777.5,1327.4 L1780.4,1327.7 L1783.2,1329.4 L1786.2,1328.9 L1789.2,1328.8 L1791.9,1331.2 L1794.9,1330.9 L1797.5,1334.1 L1800.6,1332.3 L1803.3,1334.3 L1806.2,1334.5 L1808.8,1337.1 L1811.4,1338.8 L1814.0,1340.7 L1816.3,1343.8 L1819.2,1343.4 L1821.7,1345.6 L1824.5,1345.7 L1826.7,1349.1 L1829.3,1350.3 L1831.9,1352.0 L1834.6,1353.1 L1837.3,1354.2 L1840.1,1354.5 L1842.8,1355.7 L1845.2,1359.3 L1847.9,1360.1 L1850.9,1359.5 L1853.4,1362.3 L1856.4,1361.9 L1859.1,1363.3 L1861.9,1364.6 L1864.9,1364.2 L1867.4,1367.3 L1870.1,1369.1 L1872.9,1369.7 L1875.7,1370.4 L1878.3,1372.2 L1881.0,1373.1 L1883.4,1375.7 L1886.4,1374.6 L1888.7,1377.6 L1891.3,1378.8 L1893.7,1381.1 L1896.3,1382.0 L1898.8,1384.4 L1901.3,1386.6 L1904.2,1386.3 L1907.1,1386.2 L1909.6,1389.3 L1912.4,1390.0 L1914.9,1392.3 L1917.4,1394.5 L1920.2,1394.8 L1922.8,1396.3 L1925.2,1398.9 L1927.9,1399.7 L1930.7,1400.1 L1933.6,1400.2 L1936.1,1402.5 L1939.0,1403.1 L1941.8,1404.0 L1944.6,1405.2 L1947.5,1404.9 L1950.1,1407.4 L1953.0,1407.9 L1955.6,1410.8 L1958.1,1413.9 L1961.1,1412.8 L1964.1,1412.4 L1967.0,1412.6 L1969.7,1414.8 L1972.5,1415.4 L1975.2,1418.2 L1978.3,1416.5 L1981.1,1417.7 L1983.9,1418.9 L1986.8,1420.7 L1989.8,1420.3 L1992.8,1419.4 L1995.5,1422.1 L1998.6,1420.0 L2001.5,1422.1 L2004.5,1421.7 L2007.2,1425.3 L2010.3,1423.6 L2013.0,1426.9 L2015.9,1427.7 L2018.9,1426.0 L2021.4,1430.0 L2024.3,1430.0 L2027.2,1429.4 L2029.7,1432.9 L2032.6,1432.8 L2035.3,1434.5 L2038.1,1435.6 L2040.9,1436.0 L2043.7,1437.4 L2046.5,1438.4 L2049.4,1438.4 L2052.3,1438.7 L2054.9,1441.5 L2057.8,1442.0 L2060.7,1442.3 L2063.5,1443.3 L2066.4,1443.8 L2069.2,1446.5 L2072.3,1445.6 L2075.3,1443.6 L2078.2,1445.5 L2081.2,1446.3 L2084.1,1447.2 L2087.0,1449.0 L2090.0,1448.6 L2093.0,1448.0 L2096.0,1449.7 L2099.0,1449.1 L2102.0,1450.0 L2105.0,1448.9 L2107.9,1451.7 L2110.9,1451.8 L2113.9,1450.5 L2116.8,1452.6 L2119.9,1451.5 L2122.8,1452.4 L2125.7,1454.0 L2128.8,1452.0 L2131.7,1453.6 L2134.6,1453.9 L2137.5,1456.1 L2140.5,1455.4 L2143.5,1454.7 L2146.3,1456.9 L2149.3,1457.2 L2152.2,1457.9 L2155.1,1458.6 L2158.1,1459.3 L2161.1,1458.1 L2164.1,1458.8 L2167.0,1460.5 L2170.0,1460.7 L2173.0,1460.7 L2176.0,1462.6 L2179.0,1459.8 L2182.0,1458.8 L2185.0,1458.8 L2188.0,1458.8 L2191.0,1459.0 L2194.0,1460.8 L2197.0,1460.2 L2200.0,1462.0 L2202.9,1461.1 L2205.8,1459.1 L2208.8,1460.1 L2211.7,1458.4 L2214.7,1458.8 L2217.6,1455.4 L2220.6,1457.1 L2223.5,1458.9 L2226.5,1459.0 L2229.4,1458.8 L2232.4,1459.2 L2235.3,1461.1 L2238.2,1463.2 L2241.3,1462.2 L2244.2,1463.9 L2247.2,1463.2 L2250.2,1462.4 L2253.1,1463.3 L2256.1,1464.8 L2259.1,1462.7 L2262.1,1461.5 L2265.0,1461.0 L2267.9,1460.7 L2270.9,1459.6 L2273.8,1459.8 L2276.8,1460.5 L2279.0,1460.3 L2287.0,1460.3" fill="none" stroke="#008000" stroke-width="12.7" stroke-linejoin="round" stroke-linecap="butt" clip-path="url(#plotclip)"/>
<path d="M458.8,1503.4 L466.8,1503.4 L469.8,1502.9 L472.8,1503.5 L475.8,1502.8 L478.7,1501.2 L481.6,1500.9 L484.6,1501.8 L487.6,1500.1 L490.6,1501.4 L493.5,1499.5 L496.4,1497.2 L499.4,1498.1 L502.4,1497.6 L505.3,1495.9 L508.3,1495.4 L511.3,1496.5 L514.3,1494.9 L517.3,1492.5 L520.3,1493.4 L523.3,1495.0 L526.3,1495.1 L529.1,1497.8 L532.1,1497.7 L535.0,1499.2 L538.0,1499.2 L540.9,1500.5 L543.8,1501.3 L546.8,1501.5 L549.8,1500.2 L552.7,1502.5 L555.8,1501.5 L558.7,1501.7 L561.7,1504.7 L564.7,1502.6 L567.7,1504.5 L570.7,1501.6 L573.7,1503.9 L576.6,1502.7 L579.6,1501.3 L582.6,1503.4 L585.5,1501.8 L588.5,1502.2 L591.4,1500.5 L594.4,1501.1 L597.3,1499.0 L600.3,1499.6 L603.2,1498.6 L606.0,1495.6 L609.2,1499.6 L612.0,1496.0 L614.9,1495.6 L617.9,1495.7 L620.9,1495.1 L623.9,1496.0 L626.9,1494.8 L629.9,1496.2 L632.9,1496.1 L635.9,1496.0 L638.9,1494.8 L641.9,1494.3 L644.9,1494.1 L647.9,1494.8 L650.9,1495.0 L653.9,1494.9 L656.9,1495.6 L659.9,1493.3 L662.9,1494.5 L665.9,1495.3 L668.9,1494.4 L671.9,1494.0 L674.9,1495.2 L677.9,1495.6 L680.9,1496.0 L683.9,1497.9 L686.9,1497.4 L689.9,1495.2 L692.9,1495.3 L695.9,1496.8 L698.9,1494.0 L701.9,1494.3 L704.9,1492.7 L707.9,1492.1 L710.9,1492.9 L713.9,1492.6 L716.9,1493.4 L719.8,1492.3 L722.9,1495.8 L725.9,1495.0 L728.8,1493.9 L731.7,1491.3 L734.6,1489.1 L737.6,1490.3 L740.5,1488.7 L743.5,1488.4 L746.4,1487.6 L749.3,1486.4 L752.4,1488.5 L755.5,1489.7 L758.5,1489.9 L761.4,1489.3 L764.3,1487.6 L767.1,1485.2 L770.1,1485.1 L773.0,1484.2 L776.0,1484.4 L779.0,1484.2 L781.9,1483.7 L785.0,1485.2 L787.9,1482.2 L790.8,1481.1 L793.8,1482.2 L796.8,1480.0 L799.7,1480.2 L802.7,1479.9 L805.7,1480.7 L808.6,1480.0 L811.6,1479.6 L814.7,1481.2 L817.5,1479.7 L820.2,1476.9 L823.1,1476.9 L826.1,1477.7 L828.8,1475.8 L831.4,1473.2 L834.3,1472.7 L837.0,1471.4 L839.5,1468.9 L842.3,1467.6 L844.8,1465.4 L847.7,1465.6 L850.5,1465.3 L853.1,1463.2 L855.7,1461.8 L858.5,1461.3 L860.9,1458.4 L863.4,1456.3 L865.9,1453.9 L868.5,1452.3 L871.0,1450.3 L873.7,1449.2 L876.5,1448.9 L879.2,1447.8 L882.1,1448.3 L884.4,1444.9 L886.9,1442.8 L889.5,1441.8 L892.3,1441.2 L894.8,1439.7 L897.0,1436.1 L899.5,1434.4 L901.9,1432.7 L904.6,1431.6 L907.1,1430.2 L909.9,1429.9 L912.4,1428.4 L914.6,1425.4 L916.9,1422.6 L919.5,1421.5 L922.1,1420.6 L924.8,1419.9 L927.4,1418.2 L929.4,1413.9 L932.2,1413.4 L934.8,1412.1 L936.9,1408.2 L939.7,1407.8 L942.8,1409.2 L945.1,1406.3 L947.7,1404.9 L950.8,1406.3 L952.9,1402.3 L955.5,1400.9 L957.7,1397.7 L960.4,1397.4 L962.8,1395.4 L965.0,1392.0 L967.7,1391.9 L969.9,1388.5 L972.8,1389.3 L975.2,1387.2 L977.4,1384.5 L979.9,1383.0 L982.4,1381.4 L984.7,1378.9 L986.7,1375.5 L989.5,1375.6 L991.8,1373.1 L994.5,1372.4 L996.9,1370.9 L999.1,1368.2 L1001.6,1366.8 L1003.7,1363.5 L1006.5,1363.7 L1008.8,1361.6 L1011.5,1361.0 L1013.6,1358.3 L1015.6,1355.1 L1018.2,1354.4 L1020.0,1350.6 L1022.8,1350.6 L1024.7,1347.4 L1026.9,1344.9 L1029.0,1342.2 L1031.3,1339.8 L1034.0,1339.5 L1036.3,1337.1 L1038.6,1334.2 L1041.5,1334.7 L1043.8,1331.9 L1046.8,1332.4 L1049.1,1329.7 L1051.7,1328.2 L1054.1,1326.2 L1057.1,1327.0 L1059.3,1324.4 L1061.5,1322.1 L1063.6,1319.5 L1065.9,1317.6 L1068.4,1316.8 L1070.5,1314.5 L1072.6,1312.1 L1074.5,1309.5 L1076.6,1307.4 L1079.0,1306.2 L1081.0,1303.6 L1083.2,1301.8 L1085.6,1300.9 L1087.3,1297.5 L1089.2,1294.9 L1090.6,1291.2 L1092.6,1289.2 L1094.4,1286.8 L1096.4,1284.7 L1098.3,1282.8 L1100.0,1280.1 L1102.1,1278.6 L1104.0,1276.5 L1105.2,1273.1 L1106.9,1270.7 L1108.7,1268.3 L1110.1,1265.0 L1112.6,1264.3 L1114.0,1261.0 L1115.9,1259.0 L1117.2,1255.4 L1119.4,1253.9 L1121.1,1251.3 L1122.8,1248.5 L1124.4,1245.8 L1126.5,1244.1 L1127.8,1240.4 L1129.9,1238.9 L1131.7,1236.4 L1133.6,1234.3 L1135.6,1232.5 L1137.3,1229.6 L1139.3,1227.8 L1141.4,1225.8 L1143.4,1223.4 L1145.3,1220.4 L1147.8,1219.3 L1150.1,1217.4 L1152.5,1215.8 L1154.7,1213.6 L1157.1,1212.2 L1159.3,1210.2 L1161.6,1208.7 L1163.6,1205.8 L1166.0,1204.9 L1168.0,1202.1 L1170.6,1201.6 L1172.3,1198.2 L1174.0,1194.4 L1176.9,1195.0 L1178.6,1190.6 L1181.2,1189.6 L1183.6,1188.0 L1186.1,1186.5 L1188.9,1186.3 L1191.2,1183.8 L1193.6,1181.6 L1196.0,1179.4 L1198.6,1178.4 L1201.3,1177.7 L1204.0,1176.6 L1206.6,1174.6 L1209.2,1171.6 L1212.1,1172.2 L1215.0,1171.1 L1217.9,1169.6 L1220.9,1170.1 L1223.8,1169.5 L1226.8,1168.2 L1229.8,1171.1 L1232.7,1168.4 L1235.8,1169.9 L1238.7,1170.4 L1241.7,1169.7 L1244.6,1169.6 L1247.4,1167.1 L1250.3,1166.6 L1253.2,1169.5 L1256.1,1168.0 L1259.0,1169.0 L1261.8,1169.8 L1264.7,1170.4 L1267.6,1170.4 L1270.6,1169.6 L1273.4,1171.0 L1276.2,1171.7 L1278.9,1172.3 L1281.5,1173.5 L1284.4,1172.2 L1286.7,1174.6 L1289.2,1175.9 L1291.6,1177.5 L1294.3,1177.5 L1296.5,1180.2 L1298.7,1183.1 L1301.2,1184.3 L1303.6,1186.0 L1306.0,1187.8 L1308.1,1190.5 L1310.6,1191.3 L1312.6,1193.4 L1314.5,1195.7 L1315.9,1198.9 L1318.1,1200.2 L1319.3,1203.6 L1321.1,1205.8 L1322.9,1208.1 L1324.9,1210.0 L1326.4,1213.4 L1328.5,1215.7 L1330.8,1217.3 L1333.3,1218.1 L1335.5,1220.2 L1337.7,1222.1 L1339.8,1224.5 L1341.7,1227.4 L1343.9,1229.0 L1346.0,1230.9 L1347.5,1234.7 L1349.7,1236.2 L1351.3,1239.4 L1353.5,1241.0 L1355.8,1242.4 L1357.5,1245.2 L1359.4,1247.5 L1361.2,1250.2 L1362.9,1252.8 L1365.0,1254.7 L1366.7,1257.4 L1368.5,1259.8 L1371.0,1260.5 L1372.4,1264.1 L1374.3,1266.2 L1376.4,1267.9 L1377.9,1271.4 L1380.0,1273.2 L1381.8,1276.0 L1383.8,1278.2 L1385.9,1280.3 L1388.2,1281.6 L1390.1,1284.4 L1392.1,1286.8 L1394.4,1288.3 L1396.5,1290.8 L1398.6,1293.2 L1401.2,1293.9 L1402.9,1298.1 L1405.3,1299.4 L1407.7,1301.1 L1409.9,1303.4 L1412.6,1303.6 L1414.7,1306.6 L1417.1,1308.4 L1419.5,1309.8 L1422.1,1310.8 L1424.3,1313.3 L1426.5,1316.4 L1428.8,1318.8 L1431.6,1318.7 L1434.3,1319.1 L1436.6,1321.6 L1439.0,1323.2 L1441.4,1325.2 L1443.8,1327.4 L1446.5,1328.0 L1448.9,1329.8 L1451.4,1331.4 L1453.6,1334.4 L1456.1,1335.8 L1458.2,1338.8 L1460.5,1340.8 L1462.8,1342.6 L1465.3,1343.8 L1467.5,1346.1 L1469.9,1347.3 L1472.1,1349.6 L1474.3,1351.5 L1476.4,1353.9 L1478.6,1356.2 L1481.0,1358.0 L1483.4,1359.2 L1485.9,1360.9 L1488.6,1361.9 L1491.5,1361.1 L1494.0,1363.9 L1496.8,1365.3 L1499.8,1363.4 L1502.4,1367.2 L1505.3,1367.5 L1508.2,1367.9 L1511.1,1368.4 L1514.0,1368.7 L1517.0,1368.3 L1519.9,1368.9 L1522.8,1369.9 L1525.6,1371.2 L1528.6,1370.0 L1531.4,1371.9 L1534.3,1372.3 L1537.2,1373.4 L1540.1,1374.1 L1542.9,1376.0 L1545.8,1377.2 L1548.8,1376.2 L1551.8,1377.4 L1554.7,1376.8 L1557.7,1376.2 L1560.7,1377.8 L1563.7,1376.2 L1566.7,1376.8 L1569.6,1375.9 L1572.6,1375.1 L1575.6,1377.4 L1578.5,1374.5 L1581.5,1373.4 L1584.4,1374.7 L1587.4,1375.7 L1590.4,1374.9 L1593.3,1376.0 L1596.2,1377.7 L1599.2,1377.2 L1602.2,1376.5 L1605.2,1376.3 L1608.0,1380.2 L1610.9,1380.6 L1614.0,1378.5 L1617.0,1378.2 L1619.8,1379.6 L1622.7,1380.9 L1625.6,1381.8 L1628.5,1381.1 L1631.4,1380.6 L1634.3,1380.9 L1637.3,1380.7 L1640.3,1381.2 L1643.2,1381.4 L1646.1,1379.0 L1649.1,1378.4 L1652.1,1379.4 L1655.1,1380.1 L1658.1,1377.9 L1661.1,1378.8 L1664.1,1378.7 L1667.0,1378.7 L1670.0,1380.1 L1673.0,1377.5 L1676.0,1376.4 L1678.9,1377.9 L1681.8,1378.9 L1684.6,1379.9 L1687.5,1380.7 L1690.5,1379.7 L1693.1,1382.7 L1695.9,1383.4 L1698.6,1385.6 L1701.6,1385.3 L1704.5,1385.5 L1707.3,1387.1 L1710.2,1387.7 L1713.1,1388.2 L1716.1,1389.2 L1719.1,1388.4 L1722.0,1390.1 L1725.0,1390.0 L1728.1,1388.3 L1731.0,1389.3 L1734.0,1389.1 L1736.9,1390.4 L1739.9,1390.6 L1742.8,1391.7 L1745.7,1392.6 L1748.7,1391.8 L1751.7,1392.5 L1754.6,1393.7 L1757.6,1393.4 L1760.6,1395.6 L1763.6,1395.2 L1766.6,1396.0 L1769.6,1394.4 L1772.5,1394.0 L1775.5,1395.6 L1778.5,1394.4 L1781.5,1394.5 L1784.4,1395.4 L1787.3,1395.5 L1790.2,1395.5 L1792.9,1398.3 L1795.9,1396.3 L1798.8,1395.7 L1801.0,1400.0 L1804.1,1398.6 L1806.5,1401.4 L1809.2,1402.1 L1811.4,1405.2 L1814.0,1406.3 L1816.2,1409.7 L1819.2,1408.6 L1821.4,1412.0 L1824.0,1413.2 L1826.7,1414.9 L1829.6,1414.1 L1832.5,1413.7 L1835.4,1413.0 L1838.2,1415.8 L1841.2,1414.3 L1844.1,1415.9 L1847.1,1416.6 L1850.1,1416.3 L1853.0,1417.7 L1855.9,1418.6 L1858.8,1418.2 L1861.8,1417.5 L1864.6,1418.3 L1867.5,1419.9 L1870.2,1420.0 L1872.9,1420.2 L1875.5,1419.6 L1878.0,1419.7 L1880.4,1419.4 L1882.8,1419.2 L1885.1,1420.9 L1887.4,1422.0 L1889.9,1422.7 L1892.1,1425.0 L1894.3,1428.2 L1897.1,1429.1 L1899.8,1429.7 L1902.8,1429.4 L1905.7,1429.3 L1908.7,1428.8 L1911.5,1430.6 L1914.5,1430.5 L1917.4,1431.4 L1920.1,1434.2 L1923.0,1434.3 L1925.8,1435.8 L1928.9,1434.5 L1931.6,1436.0 L1934.4,1437.3 L1937.2,1437.9 L1939.9,1440.3 L1942.8,1440.9 L1945.6,1441.7 L1948.7,1440.5 L1951.5,1441.7 L1954.1,1443.9 L1957.0,1444.0 L1959.9,1444.7 L1962.8,1444.7 L1965.3,1448.2 L1968.1,1449.4 L1971.1,1449.2 L1973.8,1451.5 L1976.7,1453.1 L1979.6,1454.6 L1982.6,1453.1 L1985.6,1454.9 L1988.6,1454.3 L1991.6,1454.4 L1994.6,1453.7 L1997.6,1452.0 L2000.5,1455.5 L2003.4,1455.6 L2006.3,1455.9 L2009.1,1456.5 L2011.9,1456.4 L2014.7,1457.1 L2017.4,1458.4 L2020.4,1457.6 L2023.0,1459.6 L2025.8,1460.2 L2028.5,1462.2 L2031.3,1463.0 L2034.1,1464.6 L2037.0,1463.9 L2039.9,1465.3 L2042.8,1465.2 L2045.6,1467.1 L2048.5,1468.1 L2051.3,1469.8 L2054.4,1468.9 L2057.2,1471.0 L2060.1,1472.1 L2062.9,1473.4 L2065.9,1473.0 L2068.7,1473.9 L2071.6,1474.0 L2074.3,1475.8 L2077.3,1475.4 L2080.2,1475.6 L2083.0,1476.5 L2086.0,1477.6 L2088.9,1478.1 L2091.9,1476.2 L2094.9,1476.6 L2097.9,1475.5 L2100.8,1475.5 L2103.8,1474.4 L2106.8,1476.9 L2109.7,1474.3 L2112.6,1473.6 L2115.6,1474.1 L2118.6,1475.3 L2121.5,1473.7 L2124.4,1473.0 L2127.3,1472.4 L2130.3,1471.9 L2133.2,1471.2 L2136.2,1471.0 L2139.0,1474.8 L2142.0,1473.0 L2144.8,1474.5 L2147.8,1474.7 L2150.5,1477.0 L2153.6,1474.7 L2156.5,1476.3 L2159.5,1475.2 L2162.3,1477.6 L2165.2,1480.1 L2168.2,1479.7 L2171.2,1479.4 L2174.1,1479.6 L2177.0,1480.7 L2180.0,1481.4 L2183.0,1481.2 L2185.9,1480.3 L2188.9,1480.8 L2191.8,1479.8 L2194.7,1479.4 L2197.7,1479.6 L2200.5,1476.8 L2203.2,1474.7 L2206.4,1477.9 L2209.1,1475.0 L2212.1,1476.2 L2214.9,1475.3 L2217.6,1472.5 L2220.6,1474.7 L2223.5,1473.2 L2226.4,1471.7 L2229.3,1471.7 L2232.3,1473.3 L2235.2,1474.6 L2238.2,1474.1 L2241.1,1473.1 L2244.1,1474.1 L2247.1,1472.9 L2250.0,1472.3 L2253.0,1473.4 L2255.9,1473.6 L2258.8,1474.1 L2261.7,1475.7 L2264.7,1475.3 L2267.6,1475.9 L2270.5,1475.6 L2273.5,1474.5 L2276.5,1476.0 L2279.0,1475.0 L2287.0,1475.0" fill="none" stroke="#808000" stroke-width="12.7" stroke-linejoin="round" stroke-linecap="butt" clip-path="url(#plotclip)"/>
<line x1="1030.0" y1="386.6" x2="1136.7" y2="386.6" stroke="#000000" stroke-width="2.4"/><polygon points="1180.7,386.6 1134.7,397.9 1134.7,375.4" fill="#000000"/>
<line x1="939.5" y1="709.6" x2="1136.7" y2="705.4" stroke="#ff0000" stroke-width="2.4"/><polygon points="1180.7,704.5 1134.9,716.7 1134.5,694.2" fill="#ff0000"/>
<line x1="981.0" y1="919.9" x2="1173.3" y2="807.5" stroke="#0000ff" stroke-width="2.4"/><polygon points="1211.3,785.3 1177.3,818.2 1165.9,798.8" fill="#0000ff"/>
<line x1="877.0" y1="1206.0" x2="1147.5" y2="1168.5" stroke="#808000" stroke-width="2.4"/><polygon points="1191.1,1162.5 1147.1,1180.0 1144.0,1157.7" fill="#808000"/>
<path d="M458.8,1503.8 L466.8,1503.8 L469.8,1503.1 L472.9,1504.9 L475.7,1501.5 L478.7,1502.6 L481.6,1501.3 L484.6,1500.4 L487.6,1501.5 L490.6,1502.2 L493.5,1500.6 L496.4,1497.1 L499.4,1498.1 L502.4,1496.6 L505.4,1497.4 L508.3,1496.9 L511.3,1495.2 L514.3,1495.5 L517.3,1493.5 L520.3,1495.2 L523.3,1494.1 L526.2,1496.2 L529.2,1497.1 L532.1,1497.4 L535.0,1499.8 L538.1,1497.7 L540.9,1500.9 L543.8,1500.7 L546.8,1501.4 L549.8,1501.3 L552.8,1500.6 L555.7,1502.3 L558.7,1501.6 L561.8,1500.5 L564.7,1503.0 L567.7,1501.7 L570.7,1504.6 L573.7,1503.4 L576.6,1502.6 L579.6,1500.8 L582.6,1503.0 L585.5,1502.0 L588.5,1500.9 L591.4,1499.5 L594.3,1499.5 L597.4,1500.9 L600.3,1499.9 L603.2,1498.4 L606.1,1496.9 L609.0,1496.4 L612.0,1497.0 L614.9,1495.4 L617.9,1495.0 L621.0,1496.9 L623.9,1496.2 L626.9,1497.0 L629.9,1495.2 L632.9,1495.5 L635.9,1494.9 L638.9,1494.5 L641.9,1494.3 L644.9,1493.2 L647.9,1494.6 L650.9,1495.4 L653.9,1494.1 L656.9,1494.7 L659.9,1495.1 L662.9,1493.4 L665.9,1495.6 L668.9,1493.9 L671.9,1494.9 L674.9,1493.8 L677.9,1496.2 L680.9,1496.3 L683.9,1495.8 L686.9,1495.2 L689.9,1496.0 L692.9,1493.7 L695.9,1495.5 L698.9,1495.0 L701.9,1494.1 L704.9,1494.0 L707.9,1492.8 L710.9,1493.3 L713.9,1493.1 L716.9,1492.6 L719.8,1492.1 L722.9,1494.3 L725.9,1494.7 L728.9,1494.3 L731.8,1492.3 L734.7,1491.9 L737.7,1491.0 L740.6,1490.4 L743.5,1487.9 L746.5,1489.2 L749.5,1489.1 L752.6,1492.1 L755.5,1490.6 L758.4,1488.2 L761.5,1491.1 L764.2,1486.9 L767.2,1486.3 L770.1,1485.1 L773.0,1484.7 L776.1,1485.9 L779.0,1484.7 L781.9,1483.7 L784.7,1482.2 L787.7,1481.8 L790.6,1481.4 L793.5,1480.1 L796.3,1478.0 L799.1,1475.5 L802.2,1477.3 L805.1,1476.9 L807.9,1475.8 L811.0,1476.6 L813.9,1475.9 L816.6,1474.1 L819.7,1475.9 L822.3,1472.1 L825.3,1472.4 L828.1,1471.8 L830.9,1470.2 L833.7,1469.2 L836.1,1466.0 L838.8,1464.1 L841.7,1464.7 L844.1,1461.5 L846.8,1460.5 L849.5,1459.7 L852.3,1459.2 L854.9,1457.9 L857.1,1454.8 L859.6,1452.8 L862.0,1450.9 L864.5,1449.6 L867.1,1448.2 L869.0,1444.3 L871.7,1443.7 L874.2,1442.4 L876.7,1441.2 L878.7,1437.7 L881.1,1436.1 L883.5,1434.6 L885.7,1432.4 L888.1,1430.9 L890.5,1429.1 L892.9,1427.6 L894.7,1424.1 L897.0,1422.1 L899.3,1420.4 L901.9,1419.7 L903.9,1416.6 L906.6,1416.3 L908.8,1414.4 L911.0,1412.1 L912.9,1409.1 L915.4,1408.1 L917.7,1406.2 L919.7,1403.5 L921.4,1399.8 L923.6,1397.7 L925.8,1395.7 L928.2,1394.1 L930.6,1392.8 L932.7,1390.5 L934.9,1388.5 L937.6,1388.3 L939.6,1385.4 L942.1,1384.6 L944.2,1382.2 L946.1,1379.3 L948.3,1377.6 L950.2,1374.8 L952.2,1372.2 L954.3,1369.9 L956.3,1367.6 L958.7,1366.6 L960.8,1364.7 L962.2,1360.5 L964.6,1359.3 L966.5,1356.8 L968.2,1353.8 L970.6,1352.7 L972.3,1349.9 L974.5,1348.2 L976.5,1346.2 L978.4,1343.8 L979.8,1340.4 L981.6,1338.0 L983.3,1335.4 L984.9,1332.8 L987.0,1331.3 L989.0,1329.4 L989.9,1325.5 L991.8,1323.7 L992.9,1320.2 L994.4,1317.6 L996.3,1315.8 L997.4,1312.5 L999.1,1310.4 L1000.4,1307.4 L1001.7,1304.6 L1003.0,1301.8 L1004.7,1299.6 L1006.4,1297.5 L1007.9,1295.0 L1008.7,1291.3 L1009.8,1288.1 L1011.7,1286.2 L1013.3,1283.7 L1014.9,1281.4 L1016.7,1279.4 L1017.9,1276.2 L1019.4,1273.5 L1020.8,1270.7 L1022.7,1268.8 L1024.0,1265.8 L1025.8,1263.7 L1027.3,1261.1 L1028.8,1258.5 L1030.0,1255.4 L1031.6,1253.0 L1032.9,1250.1 L1034.7,1248.1 L1036.2,1245.5 L1037.5,1242.9 L1038.8,1240.0 L1040.1,1237.1 L1041.3,1234.2 L1042.6,1231.4 L1043.9,1228.6 L1044.9,1225.5 L1047.0,1224.0 L1048.6,1221.8 L1049.2,1218.0 L1051.2,1216.5 L1052.2,1213.4 L1053.2,1210.3 L1054.4,1207.5 L1055.7,1204.8 L1056.8,1201.9 L1058.0,1199.2 L1059.2,1196.4 L1060.4,1193.8 L1061.0,1190.1 L1062.4,1187.8 L1063.5,1184.9 L1064.7,1182.2 L1065.7,1179.2 L1066.9,1176.5 L1068.2,1173.9 L1069.1,1170.9 L1070.8,1168.8 L1071.9,1166.0 L1072.9,1163.0 L1074.3,1160.7 L1074.9,1157.2 L1076.2,1154.6 L1077.1,1151.6 L1078.1,1148.7 L1080.1,1147.0 L1080.6,1143.4 L1081.5,1140.4 L1082.9,1138.0 L1084.1,1135.4 L1084.9,1132.2 L1086.2,1129.7 L1087.7,1127.4 L1088.7,1124.4 L1089.6,1121.4 L1090.4,1118.2 L1092.2,1116.3 L1093.2,1113.4 L1093.9,1110.0 L1095.0,1107.3 L1096.5,1104.9 L1097.6,1102.3 L1098.7,1099.4 L1099.5,1096.3 L1100.4,1093.3 L1101.6,1090.6 L1102.6,1087.7 L1103.8,1085.2 L1105.0,1082.6 L1105.5,1079.1 L1106.3,1076.0 L1107.5,1073.4 L1108.7,1070.8 L1109.1,1067.4 L1110.3,1064.8 L1111.1,1061.7 L1112.0,1058.8 L1113.7,1056.8 L1114.4,1053.7 L1115.3,1050.7 L1116.4,1048.1 L1117.3,1045.1 L1118.4,1042.4 L1119.6,1039.8 L1120.2,1036.5 L1121.7,1034.2 L1122.4,1031.0 L1123.6,1028.4 L1124.3,1025.2 L1125.3,1022.3 L1126.7,1020.0 L1127.6,1017.1 L1128.4,1014.1 L1129.4,1011.4 L1130.0,1008.1 L1131.4,1005.8 L1132.4,1003.1 L1132.9,999.8 L1133.9,997.0 L1134.6,993.9 L1135.9,991.5 L1136.7,988.4 L1137.5,985.5 L1138.5,982.7 L1139.3,979.6 L1140.4,977.0 L1141.5,974.3 L1142.1,971.1 L1143.4,968.6 L1144.0,965.4 L1145.0,962.8 L1145.5,959.4 L1146.4,956.6 L1147.8,954.2 L1148.5,951.2 L1149.7,948.6 L1150.9,946.1 L1151.5,943.0 L1151.9,939.7 L1153.3,937.3 L1153.5,933.8 L1154.0,930.6 L1156.1,928.9 L1156.2,925.3 L1157.4,922.8 L1157.8,919.5 L1159.1,917.0 L1159.8,914.0 L1161.4,911.8 L1161.5,908.1 L1162.8,905.7 L1163.5,902.6 L1164.6,900.0 L1165.4,897.0 L1166.3,894.0 L1166.8,890.7 L1168.3,888.5 L1168.7,884.9 L1170.2,882.6 L1171.4,880.0 L1172.2,876.8 L1173.5,874.3 L1174.8,871.8 L1175.9,868.9 L1176.8,865.8 L1177.9,863.0 L1179.4,860.6 L1180.4,857.7 L1181.6,854.9 L1182.6,852.0 L1183.9,849.4 L1185.1,846.6 L1186.1,843.7 L1187.8,841.6 L1189.1,838.9 L1189.8,835.5 L1190.9,832.6 L1192.5,830.4 L1193.6,827.6 L1194.8,824.9 L1195.8,821.8 L1197.0,819.0 L1198.0,816.0 L1199.7,813.9 L1200.7,810.6 L1202.0,807.7 L1204.0,806.0 L1205.4,803.1 L1207.4,801.2 L1208.7,797.6 L1210.6,795.5 L1212.7,793.4 L1214.7,791.1 L1217.1,790.1 L1219.2,787.8 L1221.5,786.4 L1223.7,784.1 L1226.3,783.3 L1228.8,782.3 L1231.1,779.5 L1233.7,777.7 L1236.3,775.4 L1239.3,776.1 L1242.1,774.9 L1244.9,773.4 L1247.9,774.9 L1250.8,775.5 L1253.6,775.7 L1256.5,773.8 L1259.3,775.3 L1262.2,774.7 L1264.9,775.5 L1267.7,776.1 L1270.6,775.6 L1272.8,779.6 L1275.4,780.4 L1277.9,781.6 L1280.2,783.6 L1282.4,785.2 L1284.4,787.4 L1286.3,789.5 L1288.6,790.5 L1289.9,793.8 L1291.5,796.2 L1292.9,799.2 L1294.6,801.3 L1296.1,804.1 L1298.0,806.0 L1299.2,809.3 L1300.8,811.8 L1302.1,814.9 L1303.7,817.3 L1305.2,820.0 L1307.3,821.5 L1308.5,824.6 L1309.8,827.5 L1310.9,830.7 L1312.5,833.0 L1313.8,835.8 L1315.3,838.2 L1316.4,841.2 L1318.0,843.3 L1319.3,846.0 L1320.3,849.0 L1321.4,852.0 L1322.6,854.7 L1324.4,856.6 L1325.4,859.6 L1326.9,862.0 L1328.0,865.0 L1329.4,867.5 L1329.8,871.5 L1331.8,873.2 L1333.3,875.5 L1334.5,878.2 L1335.4,881.5 L1336.8,883.9 L1337.7,886.9 L1338.5,890.0 L1339.4,892.9 L1340.5,895.6 L1341.5,898.3 L1341.6,902.0 L1343.3,904.0 L1344.1,907.0 L1345.1,909.8 L1345.3,913.3 L1347.0,915.4 L1347.7,918.5 L1349.2,920.7 L1349.8,924.1 L1350.5,927.3 L1352.1,929.4 L1353.5,931.9 L1354.5,934.8 L1355.1,938.2 L1356.1,941.2 L1357.4,943.6 L1358.8,946.0 L1359.5,949.3 L1360.4,952.1 L1361.3,955.1 L1362.1,958.3 L1363.5,960.6 L1364.8,963.1 L1364.9,967.0 L1366.8,968.7 L1367.4,972.0 L1368.3,974.9 L1369.8,977.2 L1370.0,981.0 L1371.3,983.5 L1372.7,985.8 L1373.9,988.5 L1374.5,991.7 L1375.1,995.1 L1376.2,997.8 L1377.7,1000.1 L1378.6,1003.2 L1379.8,1005.7 L1381.0,1008.5 L1381.9,1011.6 L1383.2,1014.2 L1384.4,1016.9 L1385.3,1020.1 L1386.8,1022.4 L1388.0,1025.2 L1389.2,1028.0 L1390.7,1030.4 L1391.5,1033.7 L1393.0,1036.0 L1394.4,1038.4 L1395.2,1041.7 L1396.7,1043.9 L1397.2,1047.6 L1399.1,1049.3 L1399.8,1052.7 L1401.2,1055.1 L1402.0,1058.3 L1403.2,1061.1 L1404.3,1063.9 L1405.3,1067.2 L1407.2,1068.8 L1408.2,1071.9 L1409.8,1074.2 L1410.3,1078.1 L1411.7,1080.8 L1413.1,1083.4 L1414.7,1085.7 L1416.1,1088.2 L1417.7,1090.5 L1419.2,1093.0 L1420.0,1096.7 L1421.7,1098.9 L1423.6,1100.7 L1424.4,1104.5 L1426.3,1106.3 L1427.8,1108.9 L1429.2,1111.8 L1431.0,1113.9 L1432.0,1117.6 L1433.5,1120.4 L1435.3,1122.3 L1437.1,1124.5 L1438.5,1127.6 L1440.2,1130.0 L1441.5,1133.3 L1443.9,1134.0 L1445.2,1137.3 L1447.0,1139.5 L1448.5,1142.5 L1450.4,1144.3 L1451.9,1147.3 L1453.3,1150.4 L1455.4,1151.9 L1457.5,1153.3 L1458.8,1156.6 L1460.7,1158.6 L1462.0,1161.7 L1463.4,1164.8 L1465.3,1166.7 L1466.9,1169.4 L1468.2,1172.7 L1470.2,1174.6 L1472.2,1176.3 L1474.4,1177.8 L1475.8,1181.1 L1477.8,1183.2 L1479.9,1185.3 L1481.9,1187.3 L1484.3,1188.3 L1486.1,1191.5 L1488.6,1192.5 L1490.6,1195.2 L1492.5,1198.4 L1495.2,1198.9 L1497.6,1200.4 L1499.9,1202.5 L1501.9,1206.0 L1504.4,1207.4 L1506.6,1210.4 L1509.5,1210.1 L1511.8,1212.8 L1514.3,1214.8 L1516.9,1216.6 L1519.7,1216.8 L1522.4,1217.4 L1524.8,1221.2 L1527.8,1219.9 L1530.4,1222.2 L1533.3,1222.7 L1535.9,1226.4 L1539.1,1223.7 L1541.8,1225.9 L1544.7,1227.0 L1547.8,1225.2 L1550.6,1228.0 L1553.7,1226.7 L1556.7,1225.9 L1559.6,1229.6 L1562.6,1228.5 L1565.5,1228.9 L1568.5,1228.5 L1571.5,1227.3 L1574.4,1227.9 L1577.2,1229.0 L1580.1,1229.8 L1582.8,1231.0 L1585.3,1234.4 L1588.1,1234.9 L1590.9,1235.0 L1593.7,1236.3 L1596.5,1236.7 L1599.3,1238.9 L1602.3,1238.3 L1605.3,1237.0 L1608.2,1238.8 L1611.2,1238.7 L1614.2,1238.8 L1617.1,1240.6 L1620.1,1239.7 L1623.1,1238.4 L1626.1,1239.4 L1629.1,1238.3 L1632.1,1239.4 L1635.1,1238.2 L1638.1,1240.5 L1641.1,1240.9 L1644.1,1240.5 L1647.0,1243.3 L1650.0,1241.8 L1653.0,1241.7 L1655.9,1242.9 L1658.9,1241.1 L1661.8,1242.7 L1664.7,1242.9 L1667.5,1245.4 L1670.4,1245.6 L1673.3,1245.9 L1676.1,1248.3 L1679.0,1248.2 L1681.9,1248.9 L1684.8,1250.1 L1687.6,1251.8 L1690.6,1251.5 L1693.5,1252.3 L1696.4,1253.8 L1699.4,1253.7 L1702.3,1253.7 L1705.3,1255.7 L1708.3,1253.7 L1711.3,1254.4 L1714.2,1255.1 L1717.2,1254.0 L1720.2,1252.7 L1723.1,1254.0 L1726.1,1253.5 L1729.0,1255.1 L1731.9,1254.6 L1734.8,1254.5 L1737.4,1257.9 L1740.3,1258.2 L1742.9,1260.0 L1746.0,1257.9 L1748.6,1260.1 L1751.0,1262.3 L1753.6,1263.8 L1756.1,1265.7 L1758.6,1267.4 L1761.0,1269.4 L1763.5,1271.6 L1766.4,1271.5 L1768.8,1274.3 L1771.6,1274.5 L1774.5,1274.4 L1777.1,1276.3 L1779.5,1279.5 L1782.4,1279.8 L1785.1,1280.8 L1787.7,1282.6 L1790.4,1284.1 L1793.3,1284.0 L1795.9,1285.5 L1798.5,1288.1 L1801.2,1289.7 L1803.8,1291.9 L1806.8,1291.1 L1809.4,1293.2 L1812.3,1293.4 L1815.1,1294.9 L1817.6,1297.5 L1820.6,1296.6 L1823.2,1298.7 L1825.6,1301.5 L1828.6,1300.3 L1831.3,1301.4 L1833.6,1304.2 L1836.0,1306.7 L1838.6,1307.9 L1841.1,1309.6 L1843.3,1312.6 L1846.2,1312.4 L1848.6,1314.2 L1851.4,1314.6 L1853.8,1316.9 L1856.0,1319.8 L1858.5,1321.3 L1861.0,1323.1 L1863.7,1323.9 L1865.9,1326.8 L1868.4,1328.7 L1871.1,1329.2 L1873.5,1331.6 L1876.0,1333.4 L1879.3,1331.3 L1881.3,1335.9 L1883.7,1338.0 L1886.3,1339.9 L1889.0,1340.2 L1891.8,1340.6 L1894.4,1342.0 L1896.9,1344.0 L1899.5,1346.1 L1902.4,1346.1 L1905.2,1347.6 L1908.0,1348.2 L1911.0,1347.5 L1913.7,1349.7 L1916.4,1350.5 L1919.1,1351.3 L1921.8,1352.6 L1924.5,1353.2 L1926.7,1356.5 L1929.4,1357.3 L1931.6,1360.7 L1934.3,1361.4 L1937.1,1361.9 L1939.8,1362.3 L1942.3,1363.9 L1945.1,1364.3 L1947.4,1366.6 L1949.7,1368.5 L1951.7,1371.7 L1953.8,1374.5 L1956.3,1375.5 L1958.6,1377.6 L1961.1,1378.8 L1963.3,1381.2 L1965.8,1382.9 L1968.1,1385.4 L1970.8,1386.1 L1973.6,1386.7 L1975.9,1389.5 L1978.6,1391.0 L1981.6,1390.3 L1984.1,1392.8 L1986.7,1394.7 L1989.4,1396.6 L1992.2,1397.5 L1994.8,1399.9 L1997.8,1399.4 L2000.5,1401.1 L2003.2,1402.5 L2006.0,1403.3 L2008.8,1404.2 L2011.7,1404.7 L2014.4,1406.2 L2017.2,1406.5 L2019.8,1408.6 L2022.5,1410.5 L2024.9,1413.6 L2027.7,1414.6 L2030.9,1412.3 L2033.6,1414.3 L2036.2,1416.7 L2039.3,1415.0 L2042.0,1417.6 L2044.8,1418.6 L2047.8,1417.6 L2050.6,1419.1 L2053.5,1419.4 L2056.3,1421.6 L2058.9,1424.5 L2062.0,1422.9 L2064.8,1424.3 L2067.6,1425.6 L2070.5,1426.1 L2073.3,1427.6 L2076.2,1428.3 L2079.2,1428.2 L2082.1,1429.2 L2085.0,1431.6 L2087.9,1431.9 L2091.0,1429.7 L2094.0,1430.3 L2096.9,1430.2 L2099.9,1430.7 L2102.9,1430.4 L2105.9,1430.6 L2108.9,1431.8 L2111.9,1432.2 L2114.9,1432.6 L2117.9,1432.9 L2120.9,1431.7 L2123.9,1432.4 L2126.9,1431.6 L2129.8,1432.9 L2132.6,1435.0 L2135.7,1432.4 L2138.5,1434.2 L2141.2,1436.7 L2144.1,1436.6 L2146.7,1438.1 L2149.2,1441.0 L2151.8,1442.5 L2154.4,1444.6 L2157.2,1444.7 L2160.2,1443.7 L2162.9,1446.0 L2165.8,1445.2 L2168.7,1445.3 L2171.6,1445.9 L2174.6,1444.2 L2177.5,1442.8 L2180.5,1444.5 L2183.4,1443.0 L2186.4,1442.9 L2189.4,1444.9 L2192.4,1443.8 L2195.4,1444.2 L2198.3,1443.5 L2201.4,1444.7 L2204.3,1444.3 L2207.1,1439.9 L2210.1,1441.1 L2213.0,1440.0 L2216.0,1441.6 L2219.0,1441.8 L2221.9,1442.7 L2224.9,1440.9 L2227.9,1441.1 L2230.9,1438.4 L2233.9,1439.4 L2236.7,1443.0 L2239.7,1443.8 L2242.7,1443.7 L2245.6,1446.2 L2248.6,1445.4 L2251.6,1444.3 L2254.6,1443.0 L2257.5,1445.6 L2260.5,1446.9 L2263.4,1450.1 L2266.5,1448.3 L2269.5,1447.6 L2272.5,1447.9 L2275.5,1444.2 L2278.5,1444.2 L2279.0,1446.1 L2287.0,1446.1" fill="none" stroke="#0000ff" stroke-width="12.7" stroke-linejoin="round" stroke-linecap="butt" clip-path="url(#plotclip)"/>
<line x1="1544.8" y1="618.0" x2="1310.8" y2="879.6" stroke="#008000" stroke-width="2.4"/><polygon points="1281.5,912.4 1303.8,870.6 1320.6,885.6" fill="#008000"/>
<line x1="1583.0" y1="856.4" x2="1306.5" y2="977.4" stroke="#ff0080" stroke-width="2.4"/><polygon points="1266.2,995.0 1303.8,966.3 1312.9,986.9" fill="#ff0080"/>
<text x="407.6" y="1722.8" font-size="101.6" fill="#000" text-anchor="end" textLength="278.7" lengthAdjust="spacingAndGlyphs">-1,000</text>
<text x="407.6" y="1575.2" font-size="101.6" fill="#000" text-anchor="end" textLength="54.8" lengthAdjust="spacingAndGlyphs">0</text>
<text x="407.6" y="1427.7" font-size="101.6" fill="#000" text-anchor="end" textLength="246.2" lengthAdjust="spacingAndGlyphs">1,000</text>
<text x="407.6" y="1280.1" font-size="101.6" fill="#000" text-anchor="end" textLength="246.2" lengthAdjust="spacingAndGlyphs">2,000</text>
<text x="407.6" y="1132.6" font-size="101.6" fill="#000" text-anchor="end" textLength="246.2" lengthAdjust="spacingAndGlyphs">3,000</text>
<text x="407.6" y="985.0" font-size="101.6" fill="#000" text-anchor="end" textLength="246.2" lengthAdjust="spacingAndGlyphs">4,000</text>
<text x="407.6" y="837.5" font-size="101.6" fill="#000" text-anchor="end" textLength="246.2" lengthAdjust="spacingAndGlyphs">5,000</text>
<text x="407.6" y="689.9" font-size="101.6" fill="#000" text-anchor="end" textLength="246.2" lengthAdjust="spacingAndGlyphs">6,000</text>
<text x="407.6" y="542.4" font-size="101.6" fill="#000" text-anchor="end" textLength="246.2" lengthAdjust="spacingAndGlyphs">7,000</text>
<text x="407.6" y="394.8" font-size="101.6" fill="#000" text-anchor="end" textLength="246.2" lengthAdjust="spacingAndGlyphs">8,000</text>
<text x="407.6" y="247.3" font-size="101.6" fill="#000" text-anchor="end" textLength="246.2" lengthAdjust="spacingAndGlyphs">9,000</text>
<text x="407.6" y="99.7" font-size="101.6" fill="#000" text-anchor="end" textLength="301.0" lengthAdjust="spacingAndGlyphs">10,000</text>
<text x="467.7" y="1829.8" font-size="102" fill="#000" text-anchor="middle" textLength="166.2" lengthAdjust="spacingAndGlyphs">450</text>
<text x="769.7" y="1829.8" font-size="102" fill="#000" text-anchor="middle" textLength="166.2" lengthAdjust="spacingAndGlyphs">475</text>
<text x="1071.8" y="1829.8" font-size="102" fill="#000" text-anchor="middle" textLength="166.2" lengthAdjust="spacingAndGlyphs">500</text>
<text x="1373.8" y="1829.8" font-size="102" fill="#000" text-anchor="middle" textLength="166.2" lengthAdjust="spacingAndGlyphs">525</text>
<text x="1675.8" y="1829.8" font-size="102" fill="#000" text-anchor="middle" textLength="166.2" lengthAdjust="spacingAndGlyphs">550</text>
<text x="1977.9" y="1829.8" font-size="102" fill="#000" text-anchor="middle" textLength="166.2" lengthAdjust="spacingAndGlyphs">575</text>
<text x="2279.9" y="1829.8" font-size="102" fill="#000" text-anchor="middle" textLength="166.2" lengthAdjust="spacingAndGlyphs">600</text>
<text x="953.0" y="2001.3" font-size="101.5" fill="#000" text-anchor="start" >Wavelengtn (nm)</text>
<text transform="translate(121.5,1093.6) rotate(-90)" font-size="104" fill="#000">Intensity (a.u.)</text>
<text x="549.0" y="415.5" font-size="82.2" fill="#000" text-anchor="start" >pure polymer</text>
<text x="640.5" y="519.2" font-size="82.6" fill="#000" text-anchor="start" >in EG</text>
<text x="745.5" y="734.9" font-size="80.5" fill="#ff0000" text-anchor="start" >2%GO</text>
<text x="780.4" y="998.9" font-size="80.8" fill="#0000ff" text-anchor="start" >3%GO</text>
<text x="636.5" y="1239.3" font-size="80.3" fill="#808000" text-anchor="start" >30%GO</text>
<text x="1539.0" y="588.6" font-size="81.3" fill="#008000" text-anchor="start" >5%GO</text>
<text x="1623.0" y="859.6" font-size="81.2" fill="#ff0080" text-anchor="start" >20%GO</text>
</svg>
</body></html>
